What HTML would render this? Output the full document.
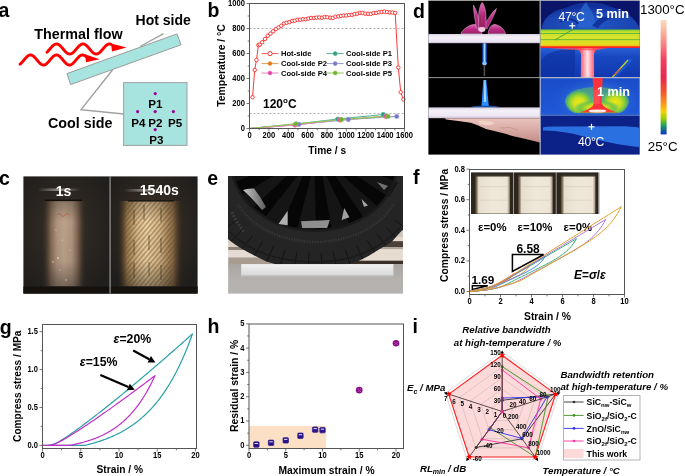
<!DOCTYPE html>
<html><head><meta charset="utf-8"><style>
html,body{margin:0;padding:0;background:#fff;font-family:"Liberation Sans", sans-serif;overflow:hidden;}
svg{display:block;will-change:transform;}
</style></head><body>
<svg width="685" height="476" viewBox="0 0 685 476" font-family="'Liberation Sans', sans-serif">
<defs><linearGradient id="slab1" x1="0" y1="0" x2="0" y2="1"><stop offset="0" stop-color="#d8d0e0"/><stop offset="0.3" stop-color="#f4f0f8"/><stop offset="0.8" stop-color="#ece6f2"/><stop offset="1" stop-color="#c8bcd0"/></linearGradient><linearGradient id="flame" x1="0" y1="0" x2="1" y2="0"><stop offset="0" stop-color="#0040ff" stop-opacity="0"/><stop offset="0.3" stop-color="#2080ff"/><stop offset="0.5" stop-color="#a0d8ff"/><stop offset="0.7" stop-color="#2080ff"/><stop offset="1" stop-color="#0040ff" stop-opacity="0"/></linearGradient><linearGradient id="pet" x1="0" y1="0" x2="0" y2="1"><stop offset="0" stop-color="#d868b0"/><stop offset="0.5" stop-color="#b82c80"/><stop offset="1" stop-color="#a02070"/></linearGradient><linearGradient id="skin" x1="0" y1="0" x2="0" y2="1"><stop offset="0" stop-color="#e8c4bc"/><stop offset="0.5" stop-color="#d8aaa4"/><stop offset="1" stop-color="#c08c84"/></linearGradient><radialGradient id="thfl" cx="0.5" cy="0.8" r="0.65"><stop offset="0" stop-color="#2058c8"/><stop offset="0.7" stop-color="#1a44b0"/><stop offset="1" stop-color="#12309a"/></radialGradient><linearGradient id="thslab" x1="0" y1="0" x2="0" y2="1"><stop offset="0" stop-color="#48a848"/><stop offset="0.08" stop-color="#a8d830"/><stop offset="0.18" stop-color="#c8e428"/><stop offset="0.22" stop-color="#58b040"/><stop offset="0.28" stop-color="#cce030"/><stop offset="0.5" stop-color="#dce428"/><stop offset="0.56" stop-color="#70b838"/><stop offset="0.62" stop-color="#d8e228"/><stop offset="0.86" stop-color="#e8d820"/><stop offset="0.91" stop-color="#f8a000"/><stop offset="0.95" stop-color="#ff3020"/><stop offset="1" stop-color="#e81840"/></linearGradient><linearGradient id="thbel" x1="0" y1="0" x2="0" y2="1"><stop offset="0" stop-color="#2a60d8"/><stop offset="0.3" stop-color="#1848c0"/><stop offset="1" stop-color="#1038b0"/></linearGradient><linearGradient id="thT" x1="0" y1="0" x2="1" y2="0"><stop offset="0" stop-color="#ff1840"/><stop offset="0.25" stop-color="#ff5068"/><stop offset="0.5" stop-color="#ffe4ea"/><stop offset="0.75" stop-color="#ff5068"/><stop offset="1" stop-color="#ff1840"/></linearGradient><linearGradient id="thbb" x1="0" y1="0" x2="0" y2="1"><stop offset="0" stop-color="#1a4cc8"/><stop offset="1" stop-color="#2058d8"/></linearGradient><radialGradient id="thcy" cx="0.5" cy="0.55" r="0.5"><stop offset="0" stop-color="#50a8f0"/><stop offset="1" stop-color="#2860d8" stop-opacity="0"/></radialGradient><radialGradient id="thlobe" cx="0.5" cy="0.55" r="0.5"><stop offset="0" stop-color="#f0e810"/><stop offset="0.4" stop-color="#d0e020"/><stop offset="0.75" stop-color="#78c840"/><stop offset="1" stop-color="#48b878" stop-opacity="0.2"/></radialGradient><linearGradient id="thT2" x1="0" y1="0" x2="1" y2="0"><stop offset="0" stop-color="#ff4020"/><stop offset="0.5" stop-color="#ff3040"/><stop offset="1" stop-color="#ff4020"/></linearGradient><linearGradient id="cbar" x1="0" y1="0" x2="0" y2="1"><stop offset="0" stop-color="#f8dcc0"/><stop offset="0.15" stop-color="#f8a090"/><stop offset="0.35" stop-color="#f04060"/><stop offset="0.5" stop-color="#e82850"/><stop offset="0.62" stop-color="#f05030"/><stop offset="0.72" stop-color="#f89020"/><stop offset="0.8" stop-color="#f8d000"/><stop offset="0.86" stop-color="#a0d000"/><stop offset="0.92" stop-color="#20a060"/><stop offset="1" stop-color="#1030c0"/></linearGradient><radialGradient id="cbgA" cx="0.47" cy="0.45" r="0.6"><stop offset="0" stop-color="#3c3128"/><stop offset="0.6" stop-color="#2a2520"/><stop offset="1" stop-color="#211f1d"/></radialGradient><radialGradient id="cbgB" cx="0.5" cy="0.45" r="0.6"><stop offset="0" stop-color="#45382a"/><stop offset="0.6" stop-color="#2c2620"/><stop offset="1" stop-color="#201e1c"/></radialGradient><linearGradient id="cyl1" x1="0" y1="0" x2="1" y2="0"><stop offset="0" stop-color="#3a2e24" stop-opacity="0"/><stop offset="0.2" stop-color="#806852"/><stop offset="0.34" stop-color="#ae9480"/><stop offset="0.5" stop-color="#bca28a"/><stop offset="0.68" stop-color="#ae947e"/><stop offset="0.82" stop-color="#76604e"/><stop offset="1" stop-color="#3a2e24" stop-opacity="0"/></linearGradient><linearGradient id="cyl2" x1="0" y1="0" x2="1" y2="0"><stop offset="0" stop-color="#4a3a26" stop-opacity="0"/><stop offset="0.14" stop-color="#9a7a4c"/><stop offset="0.3" stop-color="#dcbc8c"/><stop offset="0.45" stop-color="#f0d4a4"/><stop offset="0.65" stop-color="#d8b888"/><stop offset="0.86" stop-color="#8a6a44"/><stop offset="1" stop-color="#4a3a26" stop-opacity="0"/></linearGradient><linearGradient id="vgrad" x1="0" y1="0" x2="0" y2="1"><stop offset="0" stop-color="#a0a0a0"/><stop offset="0.25" stop-color="#fff"/><stop offset="0.7" stop-color="#f0f0f0"/><stop offset="1" stop-color="#808080"/></linearGradient><mask id="vm1" maskUnits="userSpaceOnUse" x="20" y="200" width="180" height="88"><rect x="20" y="200" width="180" height="88" fill="url(#vgrad)"/></mask><linearGradient id="mgrad" x1="0" y1="0" x2="1" y2="0"><stop offset="0" stop-color="#000"/><stop offset="0.2" stop-color="#fff"/><stop offset="0.8" stop-color="#fff"/><stop offset="1" stop-color="#000"/></linearGradient><mask id="smask" maskUnits="userSpaceOnUse" x="118" y="200" width="64" height="88"><rect x="118" y="200" width="64" height="88" fill="url(#mgrad)"/></mask><pattern id="stripes" patternUnits="userSpaceOnUse" width="3.5" height="3.5" patternTransform="rotate(40)"><rect width="1.4" height="3.5" fill="#4a3418" opacity="0.4"/></pattern><linearGradient id="glow" x1="0" y1="0" x2="1" y2="0"><stop offset="0" stop-color="#fff" stop-opacity="0"/><stop offset="0.5" stop-color="#fff4e8" stop-opacity="0.5"/><stop offset="1" stop-color="#fff" stop-opacity="0"/></linearGradient><linearGradient id="ebg" x1="0" y1="0" x2="0" y2="1"><stop offset="0" stop-color="#c4beb8"/><stop offset="0.55" stop-color="#cfc9c3"/><stop offset="0.7" stop-color="#ddd8d2"/><stop offset="0.8" stop-color="#d2cdc8"/><stop offset="1" stop-color="#b4b0ac"/></linearGradient><linearGradient id="egr" x1="0" y1="0" x2="0" y2="1"><stop offset="0" stop-color="#a8a4a0"/><stop offset="0.5" stop-color="#b4b1ae"/><stop offset="1" stop-color="#b6b4b2"/></linearGradient><clipPath id="tclip"><path d="M225,176 L406,176 L406,228 L401.7,230.8 Q396,237 392,241.4 Q387,245 381.4,248.1 Q375,252 368.9,255.8 Q363,259 357.3,261.6 Q349,264.5 340,265.5 L280,265.5 Q273,263.5 266.5,261.6 Q260,258.5 254.9,255.8 Q247,252 240.5,248.1 Q234,244 228.4,239.5 L225,237 Z"/></clipPath><linearGradient id="spk" x1="0" y1="0" x2="1" y2="0"><stop offset="0" stop-color="#c8c8c8"/><stop offset="1" stop-color="#5a5a5a"/></linearGradient><linearGradient id="eslab" x1="0" y1="0" x2="0" y2="1"><stop offset="0" stop-color="#f2f2f2"/><stop offset="0.35" stop-color="#e8e8e8"/><stop offset="1" stop-color="#d6d6d6"/></linearGradient><linearGradient id="fph" x1="0" y1="0" x2="1" y2="0"><stop offset="0" stop-color="#4a3e2c"/><stop offset="0.05" stop-color="#8a7a60"/><stop offset="0.1" stop-color="#e6dece"/><stop offset="0.5" stop-color="#efe8da"/><stop offset="0.92" stop-color="#ede6d6"/><stop offset="1" stop-color="#9a8c74"/></linearGradient></defs>
<rect width="685" height="476" fill="#fff"/>
<text x="-1.50" y="17.40" font-size="19.5" font-weight="bold" text-anchor="start" fill="#000" >a</text>
<polyline points="47.00,52.15 47.50,51.67 48.00,51.15 48.50,50.60 49.00,50.03 49.50,49.44 50.00,48.85 50.50,48.26 51.00,47.68 51.50,47.12 52.00,46.59 52.50,46.09 53.00,45.63 53.50,45.21 54.00,44.85 54.50,44.55 55.00,44.31 55.50,44.14 56.00,44.04 56.50,44.00 57.00,44.04 57.50,44.14 58.00,44.31 58.50,44.55 59.00,44.85 59.50,45.21 60.00,45.63 60.50,46.09 61.00,46.59 61.50,47.12 62.00,47.68 62.50,48.26 63.00,48.85 63.50,49.44 64.00,50.03 64.50,50.60 65.00,51.15 65.50,51.67 66.00,52.15 66.50,52.59 67.00,52.97 67.50,53.31 68.00,53.58 68.50,53.78 69.00,53.92 69.50,53.99 70.00,53.99 70.50,53.92 71.00,53.78 71.50,53.58 72.00,53.31 72.50,52.97 73.00,52.59 73.50,52.15 74.00,51.67 74.50,51.15 75.00,50.60 75.50,50.03 76.00,49.44 76.50,48.85 77.00,48.26 77.50,47.68 78.00,47.12 78.50,46.59 79.00,46.09 79.50,45.63 80.00,45.21 80.50,44.85 81.00,44.55 81.50,44.31 82.00,44.14 82.50,44.04 83.00,44.00 83.50,44.04 84.00,44.14 84.50,44.31 85.00,44.55 85.50,44.85 86.00,45.21 86.50,45.63 87.00,46.09 87.50,46.59 88.00,47.12 88.50,47.68 89.00,48.26 89.50,48.85 90.00,49.44 90.50,50.03 91.00,50.60 91.50,51.15 92.00,51.67 92.50,52.15 93.00,52.59 93.50,52.97 94.00,53.31 94.50,53.58 95.00,53.78 95.50,53.92 96.00,53.99 96.50,53.99 97.00,53.92 97.50,53.78 98.00,53.58 98.50,53.31 99.00,52.97 99.50,52.59 100.00,52.15 100.50,51.67 101.00,51.15 101.50,50.60 102.00,50.03 102.50,49.44 103.00,48.85 103.50,48.26 104.00,47.68 104.50,47.12 105.00,46.59 105.50,46.09 106.00,45.63 106.50,45.21 107.00,44.85 107.50,44.55 108.00,44.31 108.50,44.14 109.00,44.04 109.50,44.00 110.00,44.04 110.50,44.14 111.00,44.31" stroke="#ff0000" fill="none" stroke-width="2.9" stroke-linecap="round"/>
<polyline points="20.00,64.11 20.50,63.74 21.00,63.32 21.50,62.84 22.00,62.32 22.50,61.77 23.00,61.20 23.50,60.60 24.00,60.00 24.50,59.40 25.00,58.80 25.50,58.23 26.00,57.68 26.50,57.16 27.00,56.68 27.50,56.26 28.00,55.89 28.50,55.57 29.00,55.32 29.50,55.15 30.00,55.04 30.50,55.00 31.00,55.04 31.50,55.15 32.00,55.32 32.50,55.57 33.00,55.89 33.50,56.26 34.00,56.68 34.50,57.16 35.00,57.68 35.50,58.23 36.00,58.80 36.50,59.40 37.00,60.00 37.50,60.60 38.00,61.20 38.50,61.77 39.00,62.32 39.50,62.84 40.00,63.32 40.50,63.74 41.00,64.11 41.50,64.43 42.00,64.68 42.50,64.85 43.00,64.96 43.50,65.00 44.00,64.96 44.50,64.85 45.00,64.68 45.50,64.43 46.00,64.11 46.50,63.74 47.00,63.32 47.50,62.84 48.00,62.32 48.50,61.77 49.00,61.20 49.50,60.60 50.00,60.00 50.50,59.40 51.00,58.80 51.50,58.23 52.00,57.68 52.50,57.16 53.00,56.68 53.50,56.26 54.00,55.89 54.50,55.57 55.00,55.32 55.50,55.15 56.00,55.04 56.50,55.00 57.00,55.04 57.50,55.15 58.00,55.32 58.50,55.57 59.00,55.89 59.50,56.26 60.00,56.68 60.50,57.16 61.00,57.68 61.50,58.23 62.00,58.80 62.50,59.40 63.00,60.00 63.50,60.60 64.00,61.20 64.50,61.77 65.00,62.32 65.50,62.84 66.00,63.32 66.50,63.74 67.00,64.11 67.50,64.43 68.00,64.68 68.50,64.85 69.00,64.96 69.50,65.00 70.00,64.96 70.50,64.85 71.00,64.68 71.50,64.43 72.00,64.11 72.50,63.74 73.00,63.32 73.50,62.84 74.00,62.32 74.50,61.77 75.00,61.20 75.50,60.60 76.00,60.00 76.50,59.40 77.00,58.80 77.50,58.23 78.00,57.68 78.50,57.16 79.00,56.68 79.50,56.26 80.00,55.89 80.50,55.57 81.00,55.32 81.50,55.15 82.00,55.04 82.50,55.00 83.00,55.04 83.50,55.15 84.00,55.32 84.50,55.57 85.00,55.89 85.50,56.26 86.00,56.68" stroke="#ff0000" fill="none" stroke-width="2.9" stroke-linecap="round"/>
<polygon points="111,43.6 126.6,47.6 112,51.6" fill="#ff0000"/>
<polygon points="85,54.2 99.6,59.2 86,62.2" fill="#ff0000"/>
<polyline points="140.00,46.50 163.60,33.60" stroke="#a0a0a0" fill="none" stroke-width="1.4" />
<polyline points="112.50,70.00 81.00,109.60 123.60,114.00" stroke="#a0a0a0" fill="none" stroke-width="1.4" stroke-linejoin="miter"/>
<polygon points="67,73.6 177,33.9 181,44.8 70.6,84.6" fill="#a8e4df" stroke="#9a9a9a" stroke-width="1"/>
<polyline points="140.00,46.20 150.00,42.60" stroke="#a0a0a0" fill="none" stroke-width="0" />
<rect x="123.6" y="82.6" width="63.4" height="62.8" fill="#a8e4df" stroke="#a0a0a0" stroke-width="1"/>
<circle cx="155.2" cy="93.6" r="1.6" fill="#990099"/>
<circle cx="155.2" cy="111.6" r="1.6" fill="#990099"/>
<circle cx="137.6" cy="111.6" r="1.6" fill="#990099"/>
<circle cx="173.4" cy="111.6" r="1.6" fill="#990099"/>
<circle cx="155.2" cy="129.6" r="1.6" fill="#990099"/>
<text x="155.30" y="108.40" font-size="11.6" font-weight="bold" text-anchor="middle" fill="#000" >P1</text>
<text x="138.40" y="127.40" font-size="11.6" font-weight="bold" text-anchor="middle" fill="#000" >P4</text>
<text x="155.40" y="127.40" font-size="11.6" font-weight="bold" text-anchor="middle" fill="#000" >P2</text>
<text x="175.00" y="127.40" font-size="11.6" font-weight="bold" text-anchor="middle" fill="#000" >P5</text>
<text x="156.30" y="144.00" font-size="11.6" font-weight="bold" text-anchor="middle" fill="#000" >P3</text>
<text x="34.30" y="38.70" font-size="14.33" font-weight="bold" text-anchor="start" fill="#000" >Thermal flow</text>
<text x="135.60" y="25.40" font-size="14" font-weight="bold" text-anchor="start" fill="#000" >Hot side</text>
<text x="48.00" y="127.90" font-size="14.3" font-weight="bold" text-anchor="start" fill="#000" >Cool side</text>
<text x="207.40" y="17.00" font-size="19.5" font-weight="bold" text-anchor="start" fill="#000" >b</text>
<line x1="249.50" y1="28.50" x2="404.50" y2="28.50" stroke="#a0a0a0" stroke-width="0.8" stroke-dasharray="2,2"/>
<line x1="249.50" y1="113.50" x2="404.50" y2="113.50" stroke="#a0a0a0" stroke-width="0.8" stroke-dasharray="2,2"/>
<polyline points="249.50,128.50 296.00,124.12 337.66,119.12 383.19,114.50" stroke="#56b89a" fill="none" stroke-width="1.1" />
<polyline points="249.50,128.50 295.03,124.75 340.56,120.00 386.09,116.38" stroke="#e89a50" fill="none" stroke-width="1.1" />
<polyline points="249.50,128.50 298.91,124.38 348.31,119.50 396.75,116.38" stroke="#9a9ad8" fill="none" stroke-width="1.1" />
<polyline points="249.50,128.50 295.03,125.00 339.59,119.75 386.09,116.25" stroke="#f080c0" fill="none" stroke-width="1.1" />
<polyline points="249.50,128.50 296.00,123.88 341.53,119.50 388.03,116.38" stroke="#90c858" fill="none" stroke-width="1.1" />
<circle cx="296.00" cy="124.12" r="2.2" fill="#30a080" stroke="#56b89a" stroke-width="0.6"/>
<circle cx="337.66" cy="119.12" r="2.2" fill="#30a080" stroke="#56b89a" stroke-width="0.6"/>
<circle cx="383.19" cy="114.50" r="2.2" fill="#30a080" stroke="#56b89a" stroke-width="0.6"/>
<circle cx="295.03" cy="124.75" r="2.2" fill="#e07a20" stroke="#e89a50" stroke-width="0.6"/>
<circle cx="340.56" cy="120.00" r="2.2" fill="#e07a20" stroke="#e89a50" stroke-width="0.6"/>
<circle cx="386.09" cy="116.38" r="2.2" fill="#e07a20" stroke="#e89a50" stroke-width="0.6"/>
<circle cx="298.91" cy="124.38" r="2.2" fill="#7878c8" stroke="#9a9ad8" stroke-width="0.6"/>
<circle cx="348.31" cy="119.50" r="2.2" fill="#7878c8" stroke="#9a9ad8" stroke-width="0.6"/>
<circle cx="396.75" cy="116.38" r="2.2" fill="#7878c8" stroke="#9a9ad8" stroke-width="0.6"/>
<circle cx="295.03" cy="125.00" r="2.2" fill="#e040a0" stroke="#f080c0" stroke-width="0.6"/>
<circle cx="339.59" cy="119.75" r="2.2" fill="#e040a0" stroke="#f080c0" stroke-width="0.6"/>
<circle cx="386.09" cy="116.25" r="2.2" fill="#e040a0" stroke="#f080c0" stroke-width="0.6"/>
<circle cx="296.00" cy="123.88" r="2.2" fill="#70b030" stroke="#90c858" stroke-width="0.6"/>
<circle cx="341.53" cy="119.50" r="2.2" fill="#70b030" stroke="#90c858" stroke-width="0.6"/>
<circle cx="388.03" cy="116.38" r="2.2" fill="#70b030" stroke="#90c858" stroke-width="0.6"/>
<polyline points="252.50,97.25 254.73,70.00 256.48,60.00 258.41,45.00 259.77,44.62 262.19,42.25 265.00,38.97 267.71,35.75 270.43,33.67 273.14,31.29 275.85,29.11 278.56,27.39 281.27,25.78 283.99,23.51 286.70,22.76 289.41,22.13 292.12,20.92 294.84,20.67 297.55,19.81 300.26,19.71 302.98,19.23 305.69,19.23 308.40,18.50 311.11,17.97 313.82,18.01 316.54,17.63 319.25,17.46 321.96,17.70 324.68,16.96 327.39,17.26 330.10,17.72 332.81,17.94 335.52,16.69 338.24,16.35 340.95,15.84 343.66,15.53 346.38,15.48 349.09,15.05 351.80,14.89 354.51,14.03 357.23,13.74 359.94,12.82 362.65,12.98 365.36,13.71 368.07,13.83 370.79,13.91 373.50,13.06 376.21,12.93 378.93,12.26 381.64,11.97 384.35,11.63 387.06,12.05 389.77,12.41 392.49,12.57 395.20,12.89 398.30,67.50 400.72,92.25 403.34,99.38" stroke="#ff2020" fill="none" stroke-width="0.9" />
<circle cx="252.50" cy="97.25" r="1.75" fill="#fff" stroke="#ff2020" stroke-width="0.85"/>
<circle cx="254.73" cy="70.00" r="1.75" fill="#fff" stroke="#ff2020" stroke-width="0.85"/>
<circle cx="256.48" cy="60.00" r="1.75" fill="#fff" stroke="#ff2020" stroke-width="0.85"/>
<circle cx="258.41" cy="45.00" r="1.75" fill="#fff" stroke="#ff2020" stroke-width="0.85"/>
<circle cx="259.77" cy="44.62" r="1.75" fill="#fff" stroke="#ff2020" stroke-width="0.85"/>
<circle cx="262.19" cy="42.25" r="1.75" fill="#fff" stroke="#ff2020" stroke-width="0.85"/>
<circle cx="265.00" cy="38.97" r="1.75" fill="#fff" stroke="#ff2020" stroke-width="0.85"/>
<circle cx="267.71" cy="35.75" r="1.75" fill="#fff" stroke="#ff2020" stroke-width="0.85"/>
<circle cx="270.43" cy="33.67" r="1.75" fill="#fff" stroke="#ff2020" stroke-width="0.85"/>
<circle cx="273.14" cy="31.29" r="1.75" fill="#fff" stroke="#ff2020" stroke-width="0.85"/>
<circle cx="275.85" cy="29.11" r="1.75" fill="#fff" stroke="#ff2020" stroke-width="0.85"/>
<circle cx="278.56" cy="27.39" r="1.75" fill="#fff" stroke="#ff2020" stroke-width="0.85"/>
<circle cx="281.27" cy="25.78" r="1.75" fill="#fff" stroke="#ff2020" stroke-width="0.85"/>
<circle cx="283.99" cy="23.51" r="1.75" fill="#fff" stroke="#ff2020" stroke-width="0.85"/>
<circle cx="286.70" cy="22.76" r="1.75" fill="#fff" stroke="#ff2020" stroke-width="0.85"/>
<circle cx="289.41" cy="22.13" r="1.75" fill="#fff" stroke="#ff2020" stroke-width="0.85"/>
<circle cx="292.12" cy="20.92" r="1.75" fill="#fff" stroke="#ff2020" stroke-width="0.85"/>
<circle cx="294.84" cy="20.67" r="1.75" fill="#fff" stroke="#ff2020" stroke-width="0.85"/>
<circle cx="297.55" cy="19.81" r="1.75" fill="#fff" stroke="#ff2020" stroke-width="0.85"/>
<circle cx="300.26" cy="19.71" r="1.75" fill="#fff" stroke="#ff2020" stroke-width="0.85"/>
<circle cx="302.98" cy="19.23" r="1.75" fill="#fff" stroke="#ff2020" stroke-width="0.85"/>
<circle cx="305.69" cy="19.23" r="1.75" fill="#fff" stroke="#ff2020" stroke-width="0.85"/>
<circle cx="308.40" cy="18.50" r="1.75" fill="#fff" stroke="#ff2020" stroke-width="0.85"/>
<circle cx="311.11" cy="17.97" r="1.75" fill="#fff" stroke="#ff2020" stroke-width="0.85"/>
<circle cx="313.82" cy="18.01" r="1.75" fill="#fff" stroke="#ff2020" stroke-width="0.85"/>
<circle cx="316.54" cy="17.63" r="1.75" fill="#fff" stroke="#ff2020" stroke-width="0.85"/>
<circle cx="319.25" cy="17.46" r="1.75" fill="#fff" stroke="#ff2020" stroke-width="0.85"/>
<circle cx="321.96" cy="17.70" r="1.75" fill="#fff" stroke="#ff2020" stroke-width="0.85"/>
<circle cx="324.68" cy="16.96" r="1.75" fill="#fff" stroke="#ff2020" stroke-width="0.85"/>
<circle cx="327.39" cy="17.26" r="1.75" fill="#fff" stroke="#ff2020" stroke-width="0.85"/>
<circle cx="330.10" cy="17.72" r="1.75" fill="#fff" stroke="#ff2020" stroke-width="0.85"/>
<circle cx="332.81" cy="17.94" r="1.75" fill="#fff" stroke="#ff2020" stroke-width="0.85"/>
<circle cx="335.52" cy="16.69" r="1.75" fill="#fff" stroke="#ff2020" stroke-width="0.85"/>
<circle cx="338.24" cy="16.35" r="1.75" fill="#fff" stroke="#ff2020" stroke-width="0.85"/>
<circle cx="340.95" cy="15.84" r="1.75" fill="#fff" stroke="#ff2020" stroke-width="0.85"/>
<circle cx="343.66" cy="15.53" r="1.75" fill="#fff" stroke="#ff2020" stroke-width="0.85"/>
<circle cx="346.38" cy="15.48" r="1.75" fill="#fff" stroke="#ff2020" stroke-width="0.85"/>
<circle cx="349.09" cy="15.05" r="1.75" fill="#fff" stroke="#ff2020" stroke-width="0.85"/>
<circle cx="351.80" cy="14.89" r="1.75" fill="#fff" stroke="#ff2020" stroke-width="0.85"/>
<circle cx="354.51" cy="14.03" r="1.75" fill="#fff" stroke="#ff2020" stroke-width="0.85"/>
<circle cx="357.23" cy="13.74" r="1.75" fill="#fff" stroke="#ff2020" stroke-width="0.85"/>
<circle cx="359.94" cy="12.82" r="1.75" fill="#fff" stroke="#ff2020" stroke-width="0.85"/>
<circle cx="362.65" cy="12.98" r="1.75" fill="#fff" stroke="#ff2020" stroke-width="0.85"/>
<circle cx="365.36" cy="13.71" r="1.75" fill="#fff" stroke="#ff2020" stroke-width="0.85"/>
<circle cx="368.07" cy="13.83" r="1.75" fill="#fff" stroke="#ff2020" stroke-width="0.85"/>
<circle cx="370.79" cy="13.91" r="1.75" fill="#fff" stroke="#ff2020" stroke-width="0.85"/>
<circle cx="373.50" cy="13.06" r="1.75" fill="#fff" stroke="#ff2020" stroke-width="0.85"/>
<circle cx="376.21" cy="12.93" r="1.75" fill="#fff" stroke="#ff2020" stroke-width="0.85"/>
<circle cx="378.93" cy="12.26" r="1.75" fill="#fff" stroke="#ff2020" stroke-width="0.85"/>
<circle cx="381.64" cy="11.97" r="1.75" fill="#fff" stroke="#ff2020" stroke-width="0.85"/>
<circle cx="384.35" cy="11.63" r="1.75" fill="#fff" stroke="#ff2020" stroke-width="0.85"/>
<circle cx="387.06" cy="12.05" r="1.75" fill="#fff" stroke="#ff2020" stroke-width="0.85"/>
<circle cx="389.77" cy="12.41" r="1.75" fill="#fff" stroke="#ff2020" stroke-width="0.85"/>
<circle cx="392.49" cy="12.57" r="1.75" fill="#fff" stroke="#ff2020" stroke-width="0.85"/>
<circle cx="395.20" cy="12.89" r="1.75" fill="#fff" stroke="#ff2020" stroke-width="0.85"/>
<circle cx="398.30" cy="67.50" r="1.75" fill="#fff" stroke="#ff2020" stroke-width="0.85"/>
<circle cx="400.72" cy="92.25" r="1.75" fill="#fff" stroke="#ff2020" stroke-width="0.85"/>
<circle cx="403.34" cy="99.38" r="1.75" fill="#fff" stroke="#ff2020" stroke-width="0.85"/>
<rect x="249.5" y="3.5" width="155.00" height="125.00" fill="none" stroke="#555" stroke-width="1"/>
<line x1="246.50" y1="128.50" x2="249.50" y2="128.50" stroke="#555" stroke-width="0.8" />
<line x1="247.70" y1="116.00" x2="249.50" y2="116.00" stroke="#555" stroke-width="0.8" />
<line x1="246.50" y1="103.50" x2="249.50" y2="103.50" stroke="#555" stroke-width="0.8" />
<line x1="247.70" y1="91.00" x2="249.50" y2="91.00" stroke="#555" stroke-width="0.8" />
<line x1="246.50" y1="78.50" x2="249.50" y2="78.50" stroke="#555" stroke-width="0.8" />
<line x1="247.70" y1="66.00" x2="249.50" y2="66.00" stroke="#555" stroke-width="0.8" />
<line x1="246.50" y1="53.50" x2="249.50" y2="53.50" stroke="#555" stroke-width="0.8" />
<line x1="247.70" y1="41.00" x2="249.50" y2="41.00" stroke="#555" stroke-width="0.8" />
<line x1="246.50" y1="28.50" x2="249.50" y2="28.50" stroke="#555" stroke-width="0.8" />
<line x1="247.70" y1="16.00" x2="249.50" y2="16.00" stroke="#555" stroke-width="0.8" />
<line x1="246.50" y1="3.50" x2="249.50" y2="3.50" stroke="#555" stroke-width="0.8" />
<line x1="249.50" y1="128.50" x2="249.50" y2="131.50" stroke="#555" stroke-width="0.8" />
<line x1="259.19" y1="128.50" x2="259.19" y2="130.30" stroke="#555" stroke-width="0.8" />
<line x1="268.88" y1="128.50" x2="268.88" y2="131.50" stroke="#555" stroke-width="0.8" />
<line x1="278.56" y1="128.50" x2="278.56" y2="130.30" stroke="#555" stroke-width="0.8" />
<line x1="288.25" y1="128.50" x2="288.25" y2="131.50" stroke="#555" stroke-width="0.8" />
<line x1="297.94" y1="128.50" x2="297.94" y2="130.30" stroke="#555" stroke-width="0.8" />
<line x1="307.62" y1="128.50" x2="307.62" y2="131.50" stroke="#555" stroke-width="0.8" />
<line x1="317.31" y1="128.50" x2="317.31" y2="130.30" stroke="#555" stroke-width="0.8" />
<line x1="327.00" y1="128.50" x2="327.00" y2="131.50" stroke="#555" stroke-width="0.8" />
<line x1="336.69" y1="128.50" x2="336.69" y2="130.30" stroke="#555" stroke-width="0.8" />
<line x1="346.38" y1="128.50" x2="346.38" y2="131.50" stroke="#555" stroke-width="0.8" />
<line x1="356.06" y1="128.50" x2="356.06" y2="130.30" stroke="#555" stroke-width="0.8" />
<line x1="365.75" y1="128.50" x2="365.75" y2="131.50" stroke="#555" stroke-width="0.8" />
<line x1="375.44" y1="128.50" x2="375.44" y2="130.30" stroke="#555" stroke-width="0.8" />
<line x1="385.12" y1="128.50" x2="385.12" y2="131.50" stroke="#555" stroke-width="0.8" />
<line x1="394.81" y1="128.50" x2="394.81" y2="130.30" stroke="#555" stroke-width="0.8" />
<line x1="404.50" y1="128.50" x2="404.50" y2="131.50" stroke="#555" stroke-width="0.8" />
<text transform="translate(244.90,130.90) scale(0.9,1)" font-size="8.4" font-weight="bold" text-anchor="end">0</text>
<text transform="translate(244.90,105.90) scale(0.9,1)" font-size="8.4" font-weight="bold" text-anchor="end">200</text>
<text transform="translate(244.90,80.90) scale(0.9,1)" font-size="8.4" font-weight="bold" text-anchor="end">400</text>
<text transform="translate(244.90,55.90) scale(0.9,1)" font-size="8.4" font-weight="bold" text-anchor="end">600</text>
<text transform="translate(244.90,30.90) scale(0.9,1)" font-size="8.4" font-weight="bold" text-anchor="end">800</text>
<text transform="translate(244.90,5.90) scale(0.9,1)" font-size="8.4" font-weight="bold" text-anchor="end">1000</text>
<text transform="translate(249.50,138.20) scale(0.9,1)" font-size="8.4" font-weight="bold" text-anchor="middle">0</text>
<text transform="translate(268.88,138.20) scale(0.9,1)" font-size="8.4" font-weight="bold" text-anchor="middle">200</text>
<text transform="translate(288.25,138.20) scale(0.9,1)" font-size="8.4" font-weight="bold" text-anchor="middle">400</text>
<text transform="translate(307.62,138.20) scale(0.9,1)" font-size="8.4" font-weight="bold" text-anchor="middle">600</text>
<text transform="translate(327.00,138.20) scale(0.9,1)" font-size="8.4" font-weight="bold" text-anchor="middle">800</text>
<text transform="translate(346.38,138.20) scale(0.9,1)" font-size="8.4" font-weight="bold" text-anchor="middle">1000</text>
<text transform="translate(365.75,138.20) scale(0.9,1)" font-size="8.4" font-weight="bold" text-anchor="middle">1200</text>
<text transform="translate(385.12,138.20) scale(0.9,1)" font-size="8.4" font-weight="bold" text-anchor="middle">1400</text>
<text transform="translate(404.50,138.20) scale(0.9,1)" font-size="8.4" font-weight="bold" text-anchor="middle">1600</text>
<text x="327.20" y="153.60" font-size="10.2" font-weight="bold" text-anchor="middle" fill="#000" >Time / s</text>
<text transform="translate(225.3,65.5) rotate(-90)" font-size="10.4" font-weight="bold" text-anchor="middle">Temperature / °C</text>
<text x="263.00" y="107.60" font-size="12.0" font-weight="bold" text-anchor="start" fill="#000" >120<tspan font-size="8" dy="-4.5">o</tspan><tspan dy="4.5">C</tspan></text>
<line x1="261.50" y1="53.60" x2="278.50" y2="53.60" stroke="#ff6060" stroke-width="1.0" />
<circle cx="270" cy="53.6" r="2.1" fill="#fff" stroke="#ff2020" stroke-width="0.9"/>
<line x1="261.50" y1="63.60" x2="278.50" y2="63.60" stroke="#e89a50" stroke-width="1.0" />
<circle cx="270" cy="63.6" r="2.1" fill="#e07a20" stroke="#e89a50" stroke-width="0.5"/>
<line x1="261.50" y1="73.00" x2="278.50" y2="73.00" stroke="#f080c0" stroke-width="1.0" />
<circle cx="270" cy="73.0" r="2.1" fill="#e040a0" stroke="#f080c0" stroke-width="0.5"/>
<line x1="326.70" y1="53.60" x2="343.70" y2="53.60" stroke="#56b89a" stroke-width="1.0" />
<circle cx="335.2" cy="53.6" r="2.1" fill="#30a080" stroke="#56b89a" stroke-width="0.5"/>
<line x1="326.70" y1="63.60" x2="343.70" y2="63.60" stroke="#9a9ad8" stroke-width="1.0" />
<circle cx="335.2" cy="63.6" r="2.1" fill="#7878c8" stroke="#9a9ad8" stroke-width="0.5"/>
<line x1="326.70" y1="73.00" x2="343.70" y2="73.00" stroke="#90c858" stroke-width="1.0" />
<circle cx="335.2" cy="73.0" r="2.1" fill="#70b030" stroke="#90c858" stroke-width="0.5"/>
<text x="281.00" y="56.40" font-size="7.6" font-weight="bold" text-anchor="start" fill="#000" >Hot-side</text>
<text x="281.00" y="66.40" font-size="7.6" font-weight="bold" text-anchor="start" fill="#000" >Cool-side P2</text>
<text x="281.00" y="75.80" font-size="7.6" font-weight="bold" text-anchor="start" fill="#000" >Cool-side P4</text>
<text x="346.00" y="56.40" font-size="7.6" font-weight="bold" text-anchor="start" fill="#000" >Cool-side P1</text>
<text x="346.00" y="66.40" font-size="7.6" font-weight="bold" text-anchor="start" fill="#000" >Cool-side P3</text>
<text x="346.00" y="75.80" font-size="7.6" font-weight="bold" text-anchor="start" fill="#000" >Cool-side P5</text>
<rect x="428.3" y="0" width="211.4" height="1.1" fill="#c4c4c4"/>
<rect x="428.4" y="0.8" width="111.6" height="153.8" fill="#000"/>
<rect x="428.4" y="34" width="111.6" height="9.2" fill="url(#slab1)"/>
<rect x="481.5" y="43.2" width="6" height="21" fill="url(#flame)"/>
<ellipse cx="484.5" cy="63.5" rx="2.2" ry="2" fill="#80c8ff"/>
<rect x="483.6" y="65" width="1.6" height="11" fill="#505050"/>
<path d="M461,33.6 C463,29 469,25 474,24.5 C478,24.5 481,27 482,33.6 Z" fill="url(#pet)" stroke="#e8a0d0" stroke-width="0.6"/>
<path d="M488,33.6 C489,27 492,24.5 495,24.5 C500,25.5 504,29 505.5,33.6 Z" fill="url(#pet)" stroke="#e8a0d0" stroke-width="0.6"/>
<path d="M473.4,5 C476.5,10 479,18 480,28 L476.5,28 C475,20 473.5,12 473.4,5 Z" fill="url(#pet)" stroke="#e0a0d0" stroke-width="0.5"/>
<path d="M496.5,8.5 C495,14 491,21 487,29 L483.5,27 C488,19 492,12 496.5,8.5 Z" fill="url(#pet)" stroke="#e0a0d0" stroke-width="0.5"/>
<path d="M482.2,2.5 C485.5,6 486.5,15 486,28 L478.5,28 C478,15 479,6 482.2,2.5 Z" fill="url(#pet)" stroke="#e8a8d8" stroke-width="0.5"/>
<path d="M480,14 L481,26 M484,12 L483,26" stroke="#6a3020" stroke-width="0.7" opacity="0.6"/>
<ellipse cx="481.8" cy="29.5" rx="3.6" ry="2.4" fill="#f0c8e0"/>
<rect x="428.4" y="77.2" width="111.6" height="0.9" fill="#a8a8a8"/>
<path d="M483.3,80 L486.3,80 L488.8,106 L481.5,106 Z" fill="#2a8cff"/>
<path d="M484.3,80 L485.5,80 L486.2,102 L483.8,102 Z" fill="#a0d8ff"/>
<ellipse cx="485" cy="106.8" rx="14" ry="1.3" fill="#2070e0" opacity="0.7"/>
<rect x="428.4" y="107.4" width="111.6" height="10.8" fill="url(#slab1)"/>
<path d="M445,118.2 L540,118.2 L540,142.5 Q530,140 521.3,138 Q512,136 504.4,133.5 Q495,131 486,128.9 Q478,125 470.7,122.7 Q458,121 446,119.5 Z" fill="url(#skin)"/>
<path d="M478,121 Q488,120 495,123 Q490,127 480,124 Z" fill="#f4d8cc" opacity="0.8"/>
<path d="M500,128 Q510,126 518,130" stroke="#b88068" stroke-width="0.8" fill="none" opacity="0.6"/>
<rect x="539.6" y="0.8" width="1" height="153.8" fill="#c8c8c8"/>
<svg x="540.6" y="0.8" width="99.1" height="153.8" viewBox="540.6 0.8 99.1 153.8" overflow="hidden">
<rect x="540.6" y="0.8" width="99.1" height="76.6" fill="#0a1468"/>
<path d="M541,30 C543,18 552,10 566,8 C575,2 598,0 612,7 C626,11 637,19 640,30 Z" fill="url(#thfl)"/>
<path d="M578,28 C576,18 580,8 586,2 C590,10 596,16 596,28 Z" fill="#2a64d0" opacity="0.8"/>
<path d="M592,26 C598,18 606,14 612,18 C606,20 600,24 598,28 Z" fill="#0e2a90" opacity="0.8"/>
<path d="M560,22 C566,18 574,18 578,24" stroke="#0e2890" stroke-width="1.5" fill="none"/>
<rect x="540.6" y="29.3" width="99.1" height="18.4" fill="url(#thslab)"/>
<path d="M555,40 Q565,34 572,30" stroke="#40a040" stroke-width="1.2" fill="none" opacity="0.7"/>
<rect x="540.6" y="47.7" width="99.1" height="29.7" fill="url(#thbel)"/>
<path d="M541,60 Q548,52 560,50 L575,49 L575,77.4 L541,77.4 Z" fill="#0e2e9c" opacity="0.6"/>
<path d="M612,77.4 L630,58 L633,60 L616,77.4 Z" fill="#1a60d8" opacity="0.7"/>
<path d="M612.5,77 L628,60" stroke="#c8d020" stroke-width="1.3"/>
<path d="M614,75.5 L620,68.5" stroke="#ff3030" stroke-width="1"/>
<path d="M573,47.6 L602,47.6 Q595,49 594,54 L594.2,77.4 L580.8,77.4 L581,54 Q580,49 573,47.6 Z" fill="url(#thT)"/>
<rect x="540.6" y="46.8" width="99.1" height="1.2" fill="#ff2030"/>
<path d="M548,48 L608,48 Q600,50 590,50.5 Q570,50 548,48 Z" fill="#ff5050" opacity="0.7"/>
<rect x="540.6" y="78.1" width="99.1" height="36" fill="url(#thbb)"/>
<ellipse cx="597" cy="98" rx="44" ry="24" fill="url(#thcy)"/>
<ellipse cx="597" cy="101" rx="32" ry="14" fill="#60c050" opacity="0.55"/>
<ellipse cx="579" cy="101.5" rx="14" ry="12.5" fill="url(#thlobe)"/>
<ellipse cx="615" cy="101.5" rx="14" ry="12.5" fill="url(#thlobe)"/>
<ellipse cx="597" cy="107" rx="22" ry="7" fill="url(#thlobe)"/>
<path d="M592.6,78.1 L602.7,78.1 L601.5,103 Q604,109 618,112.5 L579,112.5 Q593,109 594,103 Z" fill="url(#thT2)"/>
<path d="M594,90 L600,90 L599.5,104 L594.5,104 Z" fill="#ff6060" opacity="0.6"/>
<ellipse cx="597.5" cy="111" rx="9" ry="1.6" fill="#ffe8e0"/>
<rect x="540.6" y="113.3" width="99.1" height="2.3" fill="#2a60d0"/>
<rect x="540.6" y="115.6" width="99.1" height="39" fill="#0c2288"/>
<path d="M543,127.5 Q546,126.2 560,126.5 L625,126.2 Q638,127 639.7,128 L639.7,147 Q628,146 612,143 Q592,139 572,133.5 Q556,130.5 543,130.5 Z" fill="#2a70e0"/>
<rect x="540.6" y="77.2" width="99.1" height="0.9" fill="#c8c8c8"/>
</svg>
<text x="558.60" y="20.80" font-size="12.2" font-weight="normal" text-anchor="start" fill="#fff" letter-spacing="-0.3">47°C</text>
<text x="596.00" y="17.80" font-size="12.6" font-weight="bold" text-anchor="start" fill="#fff" >5 min</text>
<text x="597.00" y="95.50" font-size="12.6" font-weight="bold" text-anchor="start" fill="#fff" >1 min</text>
<text x="578.00" y="145.80" font-size="12.2" font-weight="normal" text-anchor="start" fill="#fff" letter-spacing="-0.3">40°C</text>
<line x1="569.20" y1="25.80" x2="575.20" y2="25.80" stroke="#fff" stroke-width="1.2" />
<line x1="572.20" y1="22.80" x2="572.20" y2="28.80" stroke="#fff" stroke-width="1.2" />
<line x1="588.50" y1="126.80" x2="594.50" y2="126.80" stroke="#fff" stroke-width="1.2" />
<line x1="591.50" y1="123.80" x2="591.50" y2="129.80" stroke="#fff" stroke-width="1.2" />
<rect x="660.6" y="20" width="6" height="114.4" fill="url(#cbar)"/>
<text x="640.00" y="13.60" font-size="13.3" font-weight="normal" text-anchor="start" fill="#000" >1300°C</text>
<text x="647.80" y="150.90" font-size="13.3" font-weight="normal" text-anchor="start" fill="#000" >25°C</text>
<text x="413.00" y="17.60" font-size="19.5" font-weight="bold" text-anchor="start" fill="#000" >d</text>
<text x="-1.00" y="185.00" font-size="19.5" font-weight="bold" text-anchor="start" fill="#000" >c</text>
<rect x="23.4" y="176.4" width="86.6" height="117.2" fill="url(#cbgA)"/>
<rect x="42" y="200.5" width="44" height="86" fill="url(#cyl1)" mask="url(#vm1)"/>
<circle cx="53" cy="262" r="0.8" fill="#f0e0d0" opacity="0.8"/>
<circle cx="58" cy="258" r="0.9" fill="#f0e0d0" opacity="0.8"/>
<circle cx="62" cy="240" r="0.6" fill="#f0e0d0" opacity="0.8"/>
<circle cx="66" cy="280" r="0.7" fill="#f0e0d0" opacity="0.8"/>
<circle cx="56" cy="230" r="0.6" fill="#f0e0d0" opacity="0.8"/>
<circle cx="70" cy="250" r="0.5" fill="#f0e0d0" opacity="0.8"/>
<circle cx="60" cy="270" r="0.6" fill="#f0e0d0" opacity="0.8"/>
<path d="M57,215 q2,-3 4,0 q2,3 4,0 q2,-3 4,0" stroke="#c03020" stroke-width="0.6" fill="none" opacity="0.7"/>
<rect x="38" y="188.4" width="42" height="2.6" fill="url(#glow)"/>
<rect x="45" y="199.6" width="37" height="1.5" fill="#120e0a"/>
<rect x="23.4" y="286.5" width="86.6" height="7.1" fill="#15110e"/>
<rect x="110" y="176.4" width="87.6" height="117.2" fill="url(#cbgB)"/>
<rect x="118" y="201" width="64" height="85.5" fill="url(#cyl2)" mask="url(#vm1)"/>
<rect x="118" y="202" width="64" height="84" fill="url(#stripes)" mask="url(#smask)"/>
<line x1="134.00" y1="210.00" x2="134.00" y2="225.00" stroke="#3a2810" stroke-width="0.6" />
<line x1="144.00" y1="205.00" x2="144.00" y2="220.00" stroke="#3a2810" stroke-width="0.6" />
<line x1="161.00" y1="208.00" x2="161.00" y2="222.00" stroke="#3a2810" stroke-width="0.6" />
<line x1="134.00" y1="240.00" x2="134.00" y2="255.00" stroke="#3a2810" stroke-width="0.6" />
<line x1="149.00" y1="235.00" x2="149.00" y2="250.00" stroke="#3a2810" stroke-width="0.6" />
<line x1="161.00" y1="238.00" x2="161.00" y2="253.00" stroke="#3a2810" stroke-width="0.6" />
<line x1="134.00" y1="262.00" x2="134.00" y2="278.00" stroke="#3a2810" stroke-width="0.6" />
<line x1="149.00" y1="262.00" x2="149.00" y2="276.00" stroke="#3a2810" stroke-width="0.6" />
<line x1="161.00" y1="265.00" x2="161.00" y2="280.00" stroke="#3a2810" stroke-width="0.6" />
<rect x="124" y="189.0" width="42" height="2.6" fill="url(#glow)"/>
<rect x="128" y="200.2" width="46" height="1.4" fill="#181410"/>
<rect x="110" y="286.5" width="87.6" height="7.1" fill="#16120f"/>
<rect x="109.6" y="176.4" width="0.9" height="117.2" fill="#c0c0c0"/>
<text x="63.50" y="196.00" font-size="14" font-weight="bold" text-anchor="middle" fill="#fff" >1s</text>
<text x="159.30" y="195.00" font-size="14" font-weight="bold" text-anchor="middle" fill="#fff" >1540s</text>
<text x="207.20" y="184.60" font-size="19.5" font-weight="bold" text-anchor="start" fill="#000" >e</text>
<svg x="228.3" y="176.1" width="174.7" height="117.3" viewBox="228.3 176.1 174.7 117.3" overflow="hidden">
<rect x="228.3" y="176.1" width="174.7" height="117.3" fill="url(#ebg)"/>
<rect x="228.3" y="241" width="80" height="6" fill="#dccfc2"/>
<rect x="228.3" y="247" width="80" height="3" fill="#8e847a"/>
<rect x="228.3" y="250" width="80" height="7.5" fill="#e4dcd4"/>
<rect x="228.3" y="257.5" width="80" height="8" fill="#a89c90"/>
<rect x="320" y="237" width="83" height="4.2" fill="#e6d8ca"/>
<rect x="320" y="241.2" width="83" height="6" fill="#4a4038"/>
<rect x="320" y="247.2" width="83" height="2" fill="#b0a498"/>
<rect x="320" y="249.2" width="83" height="11.5" fill="#e6dcd0"/>
<rect x="320" y="260.7" width="83" height="3.4" fill="#3a3028"/>
<rect x="228.3" y="264" width="174.7" height="29.4" fill="url(#egr)"/>
<path d="M225,176 L406,176 L406,228 L401.7,230.8 Q396,237 392,241.4 Q387,245 381.4,248.1 Q375,252 368.9,255.8 Q363,259 357.3,261.6 Q349,264.5 340,265.5 L280,265.5 Q273,263.5 266.5,261.6 Q260,258.5 254.9,255.8 Q247,252 240.5,248.1 Q234,244 228.4,239.5 L225,237 Z" fill="#242424"/>
<g clip-path="url(#tclip)">
<line x1="216.77" y1="193.78" x2="192.34" y2="202.33" stroke="#141414" stroke-width="1.0" />
<line x1="221.59" y1="203.44" x2="198.36" y2="214.67" stroke="#141414" stroke-width="1.0" />
<line x1="227.68" y1="212.54" x2="205.97" y2="226.31" stroke="#141414" stroke-width="1.0" />
<line x1="234.95" y1="220.97" x2="215.06" y2="237.07" stroke="#141414" stroke-width="1.0" />
<line x1="243.31" y1="228.61" x2="225.51" y2="246.83" stroke="#141414" stroke-width="1.0" />
<line x1="252.64" y1="235.35" x2="237.17" y2="255.44" stroke="#141414" stroke-width="1.0" />
<line x1="262.81" y1="241.10" x2="249.89" y2="262.79" stroke="#141414" stroke-width="1.0" />
<line x1="273.70" y1="245.78" x2="263.50" y2="268.78" stroke="#141414" stroke-width="1.0" />
<line x1="285.14" y1="249.34" x2="277.80" y2="273.32" stroke="#141414" stroke-width="1.0" />
<line x1="296.98" y1="251.71" x2="292.60" y2="276.36" stroke="#141414" stroke-width="1.0" />
<line x1="309.06" y1="252.88" x2="307.70" y2="277.84" stroke="#141414" stroke-width="1.0" />
<line x1="321.21" y1="252.81" x2="322.89" y2="277.76" stroke="#141414" stroke-width="1.0" />
<line x1="333.27" y1="251.52" x2="337.97" y2="276.11" stroke="#141414" stroke-width="1.0" />
<line x1="345.08" y1="249.02" x2="352.73" y2="272.92" stroke="#141414" stroke-width="1.0" />
<line x1="356.47" y1="245.35" x2="366.96" y2="268.22" stroke="#141414" stroke-width="1.0" />
<line x1="367.28" y1="240.55" x2="380.48" y2="262.09" stroke="#141414" stroke-width="1.0" />
<line x1="377.38" y1="234.69" x2="393.10" y2="254.60" stroke="#141414" stroke-width="1.0" />
<line x1="386.61" y1="227.85" x2="404.64" y2="245.86" stroke="#141414" stroke-width="1.0" />
<line x1="394.86" y1="220.13" x2="414.96" y2="235.99" stroke="#141414" stroke-width="1.0" />
<line x1="402.02" y1="211.62" x2="423.90" y2="225.13" stroke="#141414" stroke-width="1.0" />
<line x1="407.97" y1="202.45" x2="431.34" y2="213.41" stroke="#141414" stroke-width="1.0" />
<line x1="412.66" y1="192.75" x2="437.19" y2="201.01" stroke="#141414" stroke-width="1.0" />
</g>
<path d="M230,232 Q260,262 315,262 Q368,262 400,228" stroke="#1a1a1a" stroke-width="1.2" fill="none"/>
<ellipse cx="314.5" cy="163" rx="96" ry="82" fill="#262626"/>
<path d="M238,205 Q262,240 316,242 Q370,240 394,204" stroke="#383838" stroke-width="2.2" fill="none" stroke-dasharray="1.2,1.4"/>
<path d="M232,212 Q236,222 244,232" stroke="#3a3a3a" stroke-width="3" fill="none" stroke-dasharray="2,1.5"/>
<ellipse cx="314.5" cy="163" rx="83" ry="67.5" fill="#060606"/>
<path d="M314,150 L405.9,152.8 L403.3,169.4 L318,150 Z" fill="#151515"/>
<path d="M314,150 L398.2,182.5 L388.8,197.0 L318,150 Z" fill="#151515"/>
<path d="M314,150 L378.5,207.5 L363.7,217.8 L318,150 Z" fill="#151515"/>
<path d="M314,150 L349.7,224.2 L331.6,228.8 L318,150 Z" fill="#151515"/>
<path d="M314,150 L316.0,230.0 L297.3,228.3 L318,150 Z" fill="#151515"/>
<path d="M314,150 L282.3,224.2 L265.7,216.3 L318,150 Z" fill="#151515"/>
<path d="M314,150 L253.5,207.5 L241.4,194.7 L318,150 Z" fill="#151515"/>
<path d="M314,150 L233.8,182.5 L228.0,166.6 L318,150 Z" fill="#151515"/>
<path d="M314,150 L226.1,152.8 L227.4,136.1 L318,150 Z" fill="#151515"/>
<ellipse cx="314.5" cy="163" rx="83" ry="67.5" fill="none" stroke="#1a1a1a" stroke-width="2.5"/>
<path d="M243,190 Q248,188 254,188.5 Q260,196 266,207 L262,210 Q252,198 243,190 Z" fill="url(#spk)"/>
<path d="M278.5,224 L287.7,210.8 L287.7,225.2 Z" fill="#b0b0b0"/>
<path d="M301,221.3 L329.8,220 L327.2,227.9 L302.2,227.9 Z" fill="#8e8e8e"/>
<path d="M344.2,208 L349.5,217.3 L341.6,220 Z" fill="#a0a0a0"/>
<path d="M361.4,199 L368,205.5 L364,206.8 Z" fill="#a8a8a8"/>
<path d="M377,182 L388,186 L384,190 Z" fill="#707070"/>
<rect x="241.2" y="264.1" width="152.2" height="12.1" fill="url(#eslab)"/>
<rect x="241.2" y="275.4" width="152.2" height="0.9" fill="#b8b8b8"/>
</svg>
<text x="413.00" y="184.30" font-size="19.5" font-weight="bold" text-anchor="start" fill="#000" >f</text>
<rect x="471.0" y="172.4" width="42" height="41.6" fill="#2c261e"/>
<rect x="475.2" y="176.2" width="34.6" height="37.4" fill="url(#fph)"/>
<rect x="475.2" y="174.4" width="34.6" height="2.0" fill="#3c3428"/>
<line x1="479.00" y1="186.60" x2="509.00" y2="186.60" stroke="#d0c6b4" stroke-width="0.5" />
<line x1="479.00" y1="200.20" x2="509.00" y2="200.20" stroke="#d0c6b4" stroke-width="0.5" />
<rect x="513.0" y="172.4" width="0.9" height="41.6" fill="#9a9a9a"/>
<rect x="513.9" y="172.4" width="42" height="41.6" fill="#2c261e"/>
<rect x="518.1" y="176.2" width="34.6" height="37.4" fill="url(#fph)"/>
<rect x="518.1" y="174.4" width="34.6" height="2.0" fill="#3c3428"/>
<line x1="521.90" y1="186.60" x2="551.90" y2="186.60" stroke="#d0c6b4" stroke-width="0.5" />
<line x1="521.90" y1="200.20" x2="551.90" y2="200.20" stroke="#d0c6b4" stroke-width="0.5" />
<rect x="555.9" y="172.4" width="0.9" height="41.6" fill="#9a9a9a"/>
<rect x="556.6" y="172.4" width="42" height="41.6" fill="#2c261e"/>
<rect x="560.8000000000001" y="176.2" width="34.6" height="37.4" fill="url(#fph)"/>
<rect x="560.8000000000001" y="174.4" width="34.6" height="2.0" fill="#3c3428"/>
<line x1="564.60" y1="186.60" x2="594.60" y2="186.60" stroke="#d0c6b4" stroke-width="0.5" />
<line x1="564.60" y1="200.20" x2="594.60" y2="200.20" stroke="#d0c6b4" stroke-width="0.5" />
<rect x="598.6" y="172.4" width="0.9" height="41.6" fill="#9a9a9a"/>
<text x="478.00" y="230.60" font-size="11.4" font-weight="bold" text-anchor="start" fill="#000" >ε=0%</text>
<text x="517.60" y="230.60" font-size="11.4" font-weight="bold" text-anchor="start" fill="#000" >ε=10%</text>
<text x="563.60" y="230.60" font-size="11.4" font-weight="bold" text-anchor="start" fill="#000" >ε=0%</text>
<polyline points="469.50,291.49 470.25,291.35 471.00,291.21 471.75,291.07 472.50,290.93 473.25,290.79 474.00,290.65 474.74,290.51 475.49,290.37 476.24,290.23 476.99,290.08 477.74,289.94 478.49,289.79 479.24,289.64 479.99,289.48 480.74,289.32 481.49,289.16 482.24,289.00 482.99,288.83 483.73,288.65 484.48,288.47 485.23,288.28 485.98,288.09 486.73,287.89 487.48,287.67 488.23,287.45 488.98,287.21 489.73,286.97 490.48,286.71 491.23,286.44 491.98,286.15 492.72,285.85 493.47,285.54 494.22,285.21 494.97,284.87 495.72,284.52 496.47,284.15 497.22,283.78 497.97,283.39 498.72,282.99 499.47,282.58 500.22,282.16 500.96,281.74 501.71,281.31 502.46,280.87 503.21,280.43 503.96,279.98 504.71,279.53 505.46,279.07 506.21,278.61 506.96,278.15 507.71,277.69 508.46,277.22 509.21,276.75 509.95,276.28 510.70,275.81 511.45,275.34 512.20,274.87 512.95,274.39 513.70,273.92 514.45,273.45 514.45,273.45 513.86,274.25 513.27,274.97 512.67,275.62 512.08,276.21 511.49,276.75 510.90,277.24 510.31,277.70 509.72,278.12 509.12,278.51 508.53,278.88 507.94,279.23 507.35,279.56 506.76,279.87 506.16,280.17 505.57,280.46 504.98,280.75 504.39,281.02 503.80,281.29 503.21,281.55 502.61,281.81 502.02,282.06 501.43,282.32 500.84,282.56 500.25,282.81 499.65,283.06 499.06,283.30 498.47,283.55 497.88,283.79 497.29,284.03 496.69,284.27 496.10,284.52 495.51,284.76 494.92,285.00 494.33,285.24 493.74,285.48 493.14,285.72 492.55,285.96 491.96,286.20 491.37,286.44 490.78,286.69 490.18,286.93 489.59,287.17 489.00,287.41 488.41,287.65 487.82,287.89 487.23,288.13 486.63,288.37 486.04,288.61 485.45,288.85 484.86,289.09 484.27,289.33 483.67,289.57 483.08,289.81 482.49,290.06 481.90,290.29 481.31,290.35 480.72,290.41 480.12,290.48 479.53,290.54 478.94,290.60 478.94,290.60 478.47,290.65 478.00,290.69 477.52,290.74 477.05,290.79 476.58,290.83 476.11,290.88 475.64,290.92 475.16,290.97 474.69,291.01 474.22,291.06 473.75,291.10 473.28,291.14 472.80,291.19 472.33,291.23 471.86,291.28 471.39,291.32 470.92,291.36 470.44,291.41 469.97,291.45 469.50,291.49" stroke="#ff4040" fill="none" stroke-width="1.0" stroke-linejoin="round"/>
<polyline points="469.50,291.49 470.51,291.31 471.51,291.14 472.52,290.97 473.53,290.79 474.54,290.62 475.55,290.44 476.55,290.26 477.56,290.08 478.57,289.89 479.57,289.70 480.58,289.50 481.59,289.30 482.60,289.09 483.61,288.88 484.61,288.65 485.62,288.41 486.63,288.16 487.63,287.89 488.64,287.61 489.65,287.30 490.66,286.98 491.67,286.63 492.67,286.26 493.68,285.87 494.69,285.45 495.69,285.01 496.70,284.55 497.71,284.07 498.72,283.57 499.73,283.06 500.73,282.53 501.74,281.99 502.75,281.44 503.75,280.89 504.76,280.32 505.77,279.75 506.78,279.17 507.78,278.59 508.79,278.01 509.80,277.42 510.81,276.83 511.81,276.24 512.82,275.65 513.83,275.05 514.84,274.46 515.85,273.86 516.85,273.27 517.86,272.67 518.87,272.07 519.88,271.47 520.88,270.88 521.89,270.28 522.90,269.68 523.90,269.08 524.91,268.48 525.92,267.88 526.93,267.29 527.93,266.69 528.94,266.09 529.95,265.49 529.95,265.49 529.15,266.64 528.36,267.68 527.56,268.62 526.77,269.47 525.97,270.25 525.17,270.96 524.38,271.62 523.58,272.22 522.79,272.79 521.99,273.32 521.19,273.82 520.40,274.30 519.60,274.75 518.81,275.18 518.01,275.60 517.22,276.01 516.42,276.40 515.62,276.79 514.83,277.17 514.03,277.54 513.24,277.90 512.44,278.27 511.64,278.63 510.85,278.98 510.05,279.34 509.26,279.69 508.46,280.04 507.66,280.39 506.87,280.74 506.07,281.09 505.28,281.44 504.48,281.79 503.68,282.13 502.89,282.48 502.09,282.83 501.30,283.18 500.50,283.52 499.70,283.87 498.91,284.22 498.11,284.56 497.32,284.91 496.52,285.26 495.73,285.60 494.93,285.95 494.13,286.30 493.34,286.64 492.54,286.99 491.75,287.34 490.95,287.69 490.15,288.03 489.36,288.38 488.56,288.73 487.77,289.07 486.97,289.42 486.17,289.77 485.38,289.99 484.58,290.08 483.79,290.17 482.99,290.26 482.19,290.34 482.19,290.34 481.56,290.40 480.93,290.47 480.29,290.53 479.66,290.59 479.02,290.65 478.39,290.71 477.75,290.77 477.12,290.83 476.48,290.89 475.85,290.94 475.21,291.00 474.58,291.06 473.94,291.11 473.31,291.17 472.67,291.22 472.04,291.28 471.40,291.33 470.77,291.38 470.13,291.44 469.50,291.49" stroke="#f08020" fill="none" stroke-width="1.0" stroke-linejoin="round"/>
<polyline points="469.50,291.49 470.77,291.27 472.03,291.05 473.30,290.83 474.56,290.61 475.83,290.38 477.10,290.15 478.36,289.92 479.63,289.68 480.89,289.43 482.16,289.17 483.42,288.90 484.69,288.61 485.96,288.31 487.22,287.98 488.49,287.62 489.75,287.24 491.02,286.82 492.29,286.37 493.55,285.87 494.82,285.35 496.08,284.78 497.35,284.19 498.61,283.56 499.88,282.91 501.15,282.24 502.41,281.55 503.68,280.85 504.94,280.13 506.21,279.41 507.48,278.67 508.74,277.93 510.01,277.19 511.27,276.44 512.54,275.69 513.80,274.94 515.07,274.19 516.34,273.43 517.60,272.68 518.87,271.92 520.13,271.17 521.40,270.41 522.66,269.65 523.93,268.89 525.20,268.14 526.46,267.38 527.73,266.62 528.99,265.86 530.26,265.10 531.53,264.35 532.79,263.59 534.06,262.83 535.32,262.07 536.59,261.31 537.86,260.55 539.12,259.80 540.39,259.04 541.65,258.28 542.92,257.52 544.18,256.76 545.45,256.00 545.45,256.00 544.45,257.58 543.45,258.99 542.45,260.27 541.45,261.44 540.45,262.50 539.45,263.47 538.45,264.36 537.45,265.19 536.45,265.97 535.45,266.69 534.45,267.37 533.45,268.02 532.45,268.64 531.45,269.23 530.45,269.80 529.45,270.36 528.45,270.90 527.45,271.42 526.45,271.94 525.45,272.45 524.45,272.95 523.45,273.44 522.45,273.93 521.45,274.42 520.45,274.90 519.45,275.38 518.45,275.86 517.45,276.34 516.45,276.82 515.45,277.29 514.45,277.77 513.45,278.24 512.45,278.72 511.45,279.19 510.45,279.67 509.45,280.14 508.45,280.61 507.45,281.09 506.45,281.56 505.45,282.03 504.45,282.51 503.45,282.98 502.45,283.45 501.45,283.93 500.45,284.40 499.45,284.87 498.45,285.35 497.45,285.82 496.45,286.29 495.45,286.77 494.45,287.24 493.45,287.71 492.45,288.19 491.45,288.66 490.45,289.13 489.45,289.42 488.45,289.57 487.45,289.71 486.45,289.84 485.45,289.97 485.45,289.97 484.65,290.06 483.85,290.15 483.06,290.24 482.26,290.32 481.46,290.41 480.66,290.49 479.87,290.56 479.07,290.64 478.27,290.72 477.47,290.79 476.68,290.86 475.88,290.94 475.08,291.01 474.28,291.08 473.49,291.15 472.69,291.22 471.89,291.29 471.09,291.36 470.30,291.42 469.50,291.49" stroke="#3070f0" fill="none" stroke-width="1.0" stroke-linejoin="round"/>
<polyline points="469.50,291.49 471.28,291.19 473.06,290.88 474.85,290.58 476.63,290.27 478.41,289.94 480.19,289.61 481.98,289.26 483.76,288.89 485.54,288.48 487.32,288.03 489.11,287.53 490.89,286.97 492.67,286.34 494.45,285.64 496.24,284.87 498.02,284.04 499.80,283.16 501.58,282.23 503.37,281.27 505.15,280.29 506.93,279.28 508.72,278.27 510.50,277.25 512.28,276.22 514.06,275.18 515.85,274.15 517.63,273.11 519.41,272.07 521.19,271.03 522.98,269.99 524.76,268.95 526.54,267.91 528.32,266.86 530.11,265.82 531.89,264.78 533.67,263.74 535.45,262.69 537.24,261.65 539.02,260.61 540.80,259.57 542.58,258.52 544.37,257.48 546.15,256.44 547.93,255.40 549.71,254.35 551.50,253.31 553.28,252.27 555.06,251.23 556.84,250.18 558.62,249.14 560.41,248.10 562.19,247.06 563.97,246.01 565.75,244.97 567.54,243.93 569.32,242.89 571.10,241.84 572.88,240.80 574.67,239.76 576.45,238.72 576.45,238.72 575.04,241.05 573.63,243.16 572.23,245.06 570.82,246.79 569.41,248.37 568.00,249.81 566.59,251.15 565.18,252.38 563.78,253.53 562.37,254.60 560.96,255.62 559.55,256.58 558.14,257.50 556.74,258.38 555.33,259.23 553.92,260.06 552.51,260.86 551.10,261.64 549.69,262.41 548.29,263.16 546.88,263.91 545.47,264.65 544.06,265.38 542.65,266.10 541.25,266.82 539.84,267.53 538.43,268.25 537.02,268.96 535.61,269.67 534.20,270.38 532.80,271.08 531.39,271.79 529.98,272.49 528.57,273.20 527.16,273.90 525.76,274.61 524.35,275.31 522.94,276.02 521.53,276.72 520.12,277.42 518.71,278.13 517.31,278.83 515.90,279.54 514.49,280.24 513.08,280.94 511.67,281.65 510.27,282.35 508.86,283.05 507.45,283.76 506.04,284.46 504.63,285.17 503.22,285.87 501.82,286.57 500.41,287.17 499.00,287.53 497.59,287.87 496.18,288.20 494.78,288.51 493.37,288.79 491.96,289.05 491.96,289.05 490.84,289.25 489.71,289.43 488.59,289.59 487.47,289.75 486.34,289.89 485.22,290.03 484.10,290.16 482.98,290.28 481.85,290.39 480.73,290.50 479.61,290.61 478.48,290.72 477.36,290.82 476.24,290.92 475.11,291.02 473.99,291.11 472.87,291.21 471.75,291.30 470.62,291.40 469.50,291.49" stroke="#30b070" fill="none" stroke-width="1.0" stroke-linejoin="round"/>
<polyline points="469.50,291.49 471.77,291.09 474.05,290.69 476.32,290.28 478.59,289.86 480.87,289.42 483.14,288.94 485.41,288.42 487.69,287.82 489.96,287.14 492.23,286.35 494.51,285.44 496.78,284.41 499.05,283.28 501.33,282.08 503.60,280.82 505.87,279.52 508.15,278.19 510.42,276.84 512.69,275.49 514.97,274.13 517.24,272.76 519.51,271.40 521.79,270.03 524.06,268.66 526.33,267.29 528.61,265.92 530.88,264.54 533.15,263.17 535.43,261.80 537.70,260.43 539.97,259.06 542.25,257.69 544.52,256.32 546.79,254.94 549.07,253.57 551.34,252.20 553.61,250.83 555.89,249.46 558.16,248.09 560.43,246.71 562.71,245.34 564.98,243.97 567.25,242.60 569.53,241.23 571.80,239.86 574.07,238.49 576.35,237.11 578.62,235.74 580.89,234.37 583.17,233.00 585.44,231.63 587.71,230.26 589.99,228.88 592.26,227.51 594.53,226.14 596.81,224.77 599.08,223.40 601.35,222.03 603.63,220.66 605.90,219.28 605.90,219.28 604.10,222.48 602.31,225.36 600.51,227.97 598.72,230.33 596.92,232.49 595.12,234.47 593.33,236.29 591.53,237.98 589.74,239.55 587.94,241.02 586.14,242.41 584.35,243.73 582.55,244.99 580.76,246.19 578.96,247.36 577.17,248.48 575.37,249.58 573.57,250.65 571.78,251.70 569.98,252.73 568.19,253.75 566.39,254.76 564.59,255.76 562.80,256.75 561.00,257.73 559.21,258.71 557.41,259.69 555.61,260.66 553.82,261.63 552.02,262.60 550.23,263.57 548.43,264.53 546.63,265.50 544.84,266.46 543.04,267.43 541.25,268.39 539.45,269.35 537.65,270.32 535.86,271.28 534.06,272.24 532.27,273.21 530.47,274.17 528.67,275.13 526.88,276.09 525.08,277.06 523.29,278.02 521.49,278.98 519.70,279.95 517.90,280.91 516.10,281.87 514.31,282.83 512.51,283.55 510.72,284.08 508.92,284.62 507.12,285.14 505.33,285.67 503.53,286.18 501.74,286.68 499.94,287.16 498.14,287.62 498.14,287.62 496.71,287.97 495.28,288.30 493.85,288.61 492.42,288.89 490.98,289.15 489.55,289.39 488.12,289.60 486.69,289.80 485.25,289.98 483.82,290.15 482.39,290.30 480.96,290.45 479.53,290.59 478.09,290.73 476.66,290.86 475.23,290.99 473.80,291.12 472.36,291.24 470.93,291.37 469.50,291.49" stroke="#b070e0" fill="none" stroke-width="1.0" stroke-linejoin="round"/>
<polyline points="469.50,291.49 472.03,291.03 474.56,290.56 477.10,290.09 479.63,289.59 482.16,289.06 484.69,288.47 487.22,287.81 489.75,287.03 492.29,286.12 494.82,285.05 497.35,283.84 499.88,282.50 502.41,281.07 504.94,279.58 507.48,278.05 510.01,276.50 512.54,274.93 515.07,273.35 517.60,271.77 520.13,270.18 522.66,268.59 525.20,267.01 527.73,265.42 530.26,263.83 532.79,262.24 535.32,260.65 537.86,259.06 540.39,257.47 542.92,255.88 545.45,254.29 547.98,252.70 550.51,251.11 553.05,249.52 555.58,247.93 558.11,246.34 560.64,244.75 563.17,243.16 565.70,241.57 568.24,239.98 570.77,238.39 573.30,236.80 575.83,235.21 578.36,233.62 580.89,232.03 583.42,230.44 585.96,228.85 588.49,227.26 591.02,225.67 593.55,224.08 596.08,222.49 598.62,220.90 601.15,219.31 603.68,217.72 606.21,216.13 608.74,214.54 611.27,212.95 613.81,211.36 616.34,209.77 618.87,208.18 621.40,206.58 621.40,206.58 619.40,210.34 617.40,213.73 615.40,216.80 613.40,219.58 611.40,222.11 609.40,224.44 607.40,226.58 605.40,228.57 603.40,230.41 601.40,232.15 599.40,233.78 597.40,235.33 595.40,236.81 593.40,238.23 591.40,239.59 589.40,240.92 587.40,242.21 585.40,243.47 583.40,244.70 581.40,245.92 579.40,247.12 577.40,248.30 575.40,249.47 573.40,250.64 571.40,251.80 569.40,252.95 567.40,254.09 565.40,255.24 563.40,256.38 561.40,257.52 559.40,258.65 557.40,259.79 555.40,260.92 553.40,262.06 551.40,263.19 549.40,264.33 547.40,265.46 545.40,266.59 543.40,267.72 541.40,268.86 539.40,269.99 537.40,271.12 535.40,272.25 533.40,273.38 531.40,274.52 529.40,275.65 527.40,276.78 525.40,277.91 523.40,279.05 521.40,280.18 519.40,281.07 517.40,281.70 515.40,282.32 513.40,282.95 511.40,283.57 509.40,284.19 507.40,284.80 505.40,285.40 503.40,286.00 501.40,286.58 501.40,286.58 499.80,287.02 498.21,287.45 496.61,287.85 495.02,288.23 493.42,288.58 491.83,288.90 490.23,289.18 488.64,289.44 487.04,289.68 485.45,289.89 483.85,290.09 482.26,290.27 480.66,290.44 479.07,290.60 477.47,290.76 475.88,290.91 474.28,291.06 472.69,291.20 471.09,291.35 469.50,291.49" stroke="#e0a020" fill="none" stroke-width="1.0" stroke-linejoin="round"/>
<polygon points="512.40,254.60 543.60,254.60 512.40,271.40" stroke="#000" fill="none" stroke-width="1.5" stroke-linejoin="miter"/>
<polygon points="472.30,285.80 487.80,285.80 472.30,289.40" stroke="#000" fill="none" stroke-width="1.4" />
<text x="516.40" y="252.60" font-size="12" font-weight="bold" text-anchor="start" fill="#000" >6.58</text>
<text x="471.40" y="283.80" font-size="11.8" font-weight="bold" text-anchor="start" fill="#000" >1.69</text>
<text x="574.00" y="278.60" font-size="11.9" font-weight="bold" text-anchor="start" fill="#000" ><tspan font-style="italic">E</tspan>=<tspan font-style="italic">σ</tspan>/<tspan font-style="italic">ε</tspan></text>
<rect x="469.5" y="169.5" width="155.00" height="125.00" fill="none" stroke="#555" stroke-width="1"/>
<line x1="466.50" y1="291.50" x2="469.50" y2="291.50" stroke="#555" stroke-width="0.8" />
<text transform="translate(464.90,293.90) scale(0.9,1)" font-size="8.4" font-weight="bold" text-anchor="end">0.0</text>
<line x1="466.50" y1="260.90" x2="469.50" y2="260.90" stroke="#555" stroke-width="0.8" />
<text transform="translate(464.90,263.30) scale(0.9,1)" font-size="8.4" font-weight="bold" text-anchor="end">0.2</text>
<line x1="466.50" y1="230.30" x2="469.50" y2="230.30" stroke="#555" stroke-width="0.8" />
<text transform="translate(464.90,232.70) scale(0.9,1)" font-size="8.4" font-weight="bold" text-anchor="end">0.4</text>
<line x1="466.50" y1="199.70" x2="469.50" y2="199.70" stroke="#555" stroke-width="0.8" />
<text transform="translate(464.90,202.10) scale(0.9,1)" font-size="8.4" font-weight="bold" text-anchor="end">0.6</text>
<line x1="466.50" y1="169.10" x2="469.50" y2="169.10" stroke="#555" stroke-width="0.8" />
<text transform="translate(464.90,171.50) scale(0.9,1)" font-size="8.4" font-weight="bold" text-anchor="end">0.8</text>
<line x1="467.70" y1="276.20" x2="469.50" y2="276.20" stroke="#555" stroke-width="0.8" />
<line x1="467.70" y1="245.60" x2="469.50" y2="245.60" stroke="#555" stroke-width="0.8" />
<line x1="467.70" y1="215.00" x2="469.50" y2="215.00" stroke="#555" stroke-width="0.8" />
<line x1="467.70" y1="184.40" x2="469.50" y2="184.40" stroke="#555" stroke-width="0.8" />
<line x1="469.50" y1="294.50" x2="469.50" y2="297.50" stroke="#555" stroke-width="0.8" />
<text transform="translate(469.50,304.20) scale(0.9,1)" font-size="8.4" font-weight="bold" text-anchor="middle">0</text>
<line x1="485.00" y1="294.50" x2="485.00" y2="296.30" stroke="#555" stroke-width="0.8" />
<line x1="500.50" y1="294.50" x2="500.50" y2="297.50" stroke="#555" stroke-width="0.8" />
<text transform="translate(500.50,304.20) scale(0.9,1)" font-size="8.4" font-weight="bold" text-anchor="middle">2</text>
<line x1="516.00" y1="294.50" x2="516.00" y2="296.30" stroke="#555" stroke-width="0.8" />
<line x1="531.50" y1="294.50" x2="531.50" y2="297.50" stroke="#555" stroke-width="0.8" />
<text transform="translate(531.50,304.20) scale(0.9,1)" font-size="8.4" font-weight="bold" text-anchor="middle">4</text>
<line x1="547.00" y1="294.50" x2="547.00" y2="296.30" stroke="#555" stroke-width="0.8" />
<line x1="562.50" y1="294.50" x2="562.50" y2="297.50" stroke="#555" stroke-width="0.8" />
<text transform="translate(562.50,304.20) scale(0.9,1)" font-size="8.4" font-weight="bold" text-anchor="middle">6</text>
<line x1="578.00" y1="294.50" x2="578.00" y2="296.30" stroke="#555" stroke-width="0.8" />
<line x1="593.50" y1="294.50" x2="593.50" y2="297.50" stroke="#555" stroke-width="0.8" />
<text transform="translate(593.50,304.20) scale(0.9,1)" font-size="8.4" font-weight="bold" text-anchor="middle">8</text>
<line x1="609.00" y1="294.50" x2="609.00" y2="296.30" stroke="#555" stroke-width="0.8" />
<line x1="624.50" y1="294.50" x2="624.50" y2="297.50" stroke="#555" stroke-width="0.8" />
<text transform="translate(624.50,304.20) scale(0.9,1)" font-size="8.4" font-weight="bold" text-anchor="middle">10</text>
<text x="547.50" y="320.00" font-size="10.3" font-weight="bold" text-anchor="middle" fill="#000" >Strain / %</text>
<text transform="translate(447.8,225.4) rotate(-90)" font-size="10.27" font-weight="bold" text-anchor="middle">Compress stress / MPa</text>
<text x="-0.30" y="333.50" font-size="19.5" font-weight="bold" text-anchor="start" fill="#000" >g</text>
<polyline points="42.50,445.38 44.37,445.36 46.25,445.31 48.12,445.20 50.00,445.01 51.87,444.66 53.75,444.13 55.62,443.39 57.49,442.48 59.37,441.44 61.24,440.31 63.12,439.13 64.99,437.91 66.87,436.65 68.74,435.38 70.61,434.08 72.49,432.77 74.36,431.44 76.24,430.09 78.11,428.73 79.99,427.37 81.86,425.99 83.73,424.59 85.61,423.19 87.48,421.78 89.36,420.36 91.23,418.94 93.10,417.50 94.98,416.06 96.85,414.60 98.73,413.14 100.60,411.68 102.48,410.20 104.35,408.72 106.22,407.24 108.10,405.75 109.97,404.25 111.85,402.74 113.72,401.23 115.60,399.72 117.47,398.19 119.34,396.67 121.22,395.14 123.09,393.60 124.97,392.06 126.84,390.51 128.72,388.96 130.59,387.41 132.46,385.85 134.34,384.28 136.21,382.71 138.09,381.14 139.96,379.56 141.84,377.98 143.71,376.40 145.58,374.81 147.46,373.21 149.33,371.62 151.21,370.02 153.08,368.41 154.95,366.80 156.83,365.19 158.70,363.58 160.58,361.96 162.45,360.34 164.33,358.71 166.20,357.09 168.07,355.45 169.95,353.82 171.82,352.18 173.70,350.54 175.57,348.90 177.45,347.25 179.32,345.60 181.19,343.95 183.07,342.29 184.94,340.64 186.82,338.97 188.69,337.31 190.57,335.64 192.44,333.97 192.44,333.97 191.09,337.71 189.74,341.33 188.40,344.84 187.05,348.24 185.70,351.53 184.35,354.73 183.00,357.82 181.65,360.83 180.31,363.73 178.96,366.55 177.61,369.29 176.26,371.93 174.91,374.50 173.56,376.99 172.22,379.40 170.87,381.74 169.52,384.00 168.17,386.20 166.82,388.33 165.47,390.39 164.13,392.39 162.78,394.33 161.43,396.20 160.08,398.02 158.73,399.79 157.38,401.50 156.04,403.15 154.69,404.76 153.34,406.32 151.99,407.83 150.64,409.29 149.29,410.71 147.95,412.08 146.60,413.41 145.25,414.70 143.90,415.95 142.55,417.17 141.20,418.34 139.86,419.48 138.51,420.59 137.16,421.66 135.81,422.69 134.46,423.70 133.11,424.67 131.77,425.62 130.42,426.53 129.07,427.42 127.72,428.28 126.37,429.11 125.02,429.92 123.68,430.70 122.33,431.46 120.98,432.20 119.63,432.91 118.28,433.60 116.93,434.27 115.59,434.92 114.24,435.55 112.89,436.16 111.54,436.75 110.19,437.32 108.84,437.88 107.50,438.41 106.15,438.94 104.80,439.44 103.45,439.93 102.10,440.41 100.75,440.87 99.41,441.31 98.06,441.74 96.71,442.16 95.36,442.57 94.01,442.96 92.66,443.35 91.32,443.71 89.97,444.07 88.62,444.42 87.27,444.76 85.92,445.08 84.58,445.40 84.58,445.40 80.37,445.40 76.16,445.40 71.95,445.40 67.75,445.40 63.54,445.40 59.33,445.40 55.12,445.40 50.91,445.40 46.71,445.40 42.50,445.40" stroke="#2aa0a8" fill="none" stroke-width="1.2" stroke-linejoin="round"/>
<polyline points="42.50,445.38 43.91,445.37 45.31,445.34 46.72,445.30 48.12,445.23 49.53,445.11 50.93,444.92 52.34,444.64 53.75,444.27 55.15,443.79 56.56,443.23 57.96,442.58 59.37,441.88 60.77,441.14 62.18,440.37 63.59,439.57 64.99,438.75 66.40,437.92 67.80,437.08 69.21,436.22 70.61,435.36 72.02,434.48 73.43,433.60 74.83,432.71 76.24,431.82 77.64,430.92 79.05,430.01 80.45,429.09 81.86,428.17 83.26,427.25 84.67,426.32 86.08,425.39 87.48,424.45 88.89,423.50 90.29,422.55 91.70,421.60 93.10,420.64 94.51,419.68 95.92,418.72 97.32,417.75 98.73,416.78 100.13,415.80 101.54,414.83 102.94,413.84 104.35,412.86 105.76,411.87 107.16,410.88 108.57,409.88 109.97,408.89 111.38,407.88 112.78,406.88 114.19,405.87 115.60,404.87 117.00,403.85 118.41,402.84 119.81,401.82 121.22,400.80 122.62,399.78 124.03,398.76 125.44,397.73 126.84,396.70 128.25,395.67 129.65,394.63 131.06,393.60 132.46,392.56 133.87,391.52 135.28,390.47 136.68,389.43 138.09,388.38 139.49,387.33 140.90,386.28 142.30,385.23 143.71,384.17 145.12,383.12 146.52,382.06 147.93,381.00 149.33,379.93 150.74,378.87 152.14,377.80 153.55,376.73 154.95,375.66 154.95,375.66 153.88,378.00 152.81,380.27 151.74,382.46 150.67,384.59 149.60,386.65 148.53,388.65 147.46,390.59 146.39,392.47 145.32,394.29 144.25,396.05 143.17,397.76 142.10,399.42 141.03,401.03 139.96,402.58 138.89,404.09 137.82,405.56 136.75,406.97 135.68,408.35 134.61,409.68 133.53,410.97 132.46,412.22 131.39,413.43 130.32,414.61 129.25,415.75 128.18,416.85 127.11,417.92 126.04,418.96 124.97,419.97 123.90,420.94 122.83,421.89 121.75,422.80 120.68,423.69 119.61,424.55 118.54,425.38 117.47,426.19 116.40,426.97 115.33,427.73 114.26,428.47 113.19,429.18 112.11,429.87 111.04,430.54 109.97,431.19 108.90,431.82 107.83,432.43 106.76,433.02 105.69,433.59 104.62,434.15 103.55,434.68 102.48,435.21 101.41,435.71 100.33,436.20 99.26,436.68 98.19,437.14 97.12,437.58 96.05,438.02 94.98,438.43 93.91,438.84 92.84,439.23 91.77,439.62 90.69,439.99 89.62,440.34 88.55,440.69 87.48,441.03 86.41,441.35 85.34,441.67 84.27,441.98 83.20,442.27 82.13,442.56 81.06,442.84 79.98,443.11 78.91,443.37 77.84,443.63 76.77,443.88 75.70,444.11 74.63,444.35 73.56,444.57 72.49,444.79 71.42,445.00 70.35,445.20 69.28,445.40 69.28,445.40 66.60,445.40 63.92,445.40 61.24,445.40 58.56,445.40 55.89,445.40 53.21,445.40 50.53,445.40 47.86,445.40 45.18,445.40 42.50,445.40" stroke="#c030c8" fill="none" stroke-width="1.2" stroke-linejoin="round"/>
<rect x="42.5" y="324.5" width="154.00" height="124.00" fill="none" stroke="#555" stroke-width="1"/>
<line x1="39.50" y1="445.40" x2="42.50" y2="445.40" stroke="#555" stroke-width="0.8" />
<text transform="translate(37.90,447.80) scale(0.9,1)" font-size="8.4" font-weight="bold" text-anchor="end">0.0</text>
<line x1="39.50" y1="407.50" x2="42.50" y2="407.50" stroke="#555" stroke-width="0.8" />
<text transform="translate(37.90,409.90) scale(0.9,1)" font-size="8.4" font-weight="bold" text-anchor="end">0.5</text>
<line x1="39.50" y1="369.60" x2="42.50" y2="369.60" stroke="#555" stroke-width="0.8" />
<text transform="translate(37.90,372.00) scale(0.9,1)" font-size="8.4" font-weight="bold" text-anchor="end">1.0</text>
<line x1="39.50" y1="331.70" x2="42.50" y2="331.70" stroke="#555" stroke-width="0.8" />
<text transform="translate(37.90,334.10) scale(0.9,1)" font-size="8.4" font-weight="bold" text-anchor="end">1.5</text>
<line x1="40.70" y1="426.45" x2="42.50" y2="426.45" stroke="#555" stroke-width="0.8" />
<line x1="40.70" y1="388.55" x2="42.50" y2="388.55" stroke="#555" stroke-width="0.8" />
<line x1="40.70" y1="350.65" x2="42.50" y2="350.65" stroke="#555" stroke-width="0.8" />
<line x1="42.50" y1="448.50" x2="42.50" y2="451.50" stroke="#555" stroke-width="0.8" />
<text transform="translate(42.50,458.20) scale(0.9,1)" font-size="8.4" font-weight="bold" text-anchor="middle">0</text>
<line x1="80.75" y1="448.50" x2="80.75" y2="451.50" stroke="#555" stroke-width="0.8" />
<text transform="translate(80.75,458.20) scale(0.9,1)" font-size="8.4" font-weight="bold" text-anchor="middle">5</text>
<line x1="119.00" y1="448.50" x2="119.00" y2="451.50" stroke="#555" stroke-width="0.8" />
<text transform="translate(119.00,458.20) scale(0.9,1)" font-size="8.4" font-weight="bold" text-anchor="middle">10</text>
<line x1="157.25" y1="448.50" x2="157.25" y2="451.50" stroke="#555" stroke-width="0.8" />
<text transform="translate(157.25,458.20) scale(0.9,1)" font-size="8.4" font-weight="bold" text-anchor="middle">15</text>
<line x1="195.50" y1="448.50" x2="195.50" y2="451.50" stroke="#555" stroke-width="0.8" />
<text transform="translate(195.50,458.20) scale(0.9,1)" font-size="8.4" font-weight="bold" text-anchor="middle">20</text>
<line x1="61.62" y1="448.50" x2="61.62" y2="450.30" stroke="#555" stroke-width="0.8" />
<line x1="99.88" y1="448.50" x2="99.88" y2="450.30" stroke="#555" stroke-width="0.8" />
<line x1="138.12" y1="448.50" x2="138.12" y2="450.30" stroke="#555" stroke-width="0.8" />
<line x1="176.38" y1="448.50" x2="176.38" y2="450.30" stroke="#555" stroke-width="0.8" />
<text x="119.80" y="473.30" font-size="10.2" font-weight="bold" text-anchor="middle" fill="#000" >Strain / %</text>
<text transform="translate(21.1,386.2) rotate(-90)" font-size="10.15" font-weight="bold" text-anchor="middle">Compress stress / MPa</text>
<line x1="133.20" y1="350.50" x2="149.25" y2="359.25" stroke="#000" stroke-width="2.2" />
<polygon points="155.40,362.60 147.53,362.41 150.98,356.09" fill="#000"/>
<line x1="100.40" y1="375.00" x2="128.37" y2="387.03" stroke="#000" stroke-width="2.2" />
<polygon points="134.80,389.80 126.95,390.34 129.79,383.73" fill="#000"/>
<text x="113.50" y="343.00" font-size="12.3" font-weight="bold" text-anchor="start" fill="#000" ><tspan font-style="italic">ε</tspan>=20%</text>
<text x="79.80" y="365.90" font-size="12.3" font-weight="bold" text-anchor="start" fill="#000" ><tspan font-style="italic">ε</tspan>=15%</text>
<text x="207.60" y="332.90" font-size="19.5" font-weight="bold" text-anchor="start" fill="#000" >h</text>
<rect x="249.0" y="425.86" width="77.18" height="22.64" fill="#fbe0c6"/>
<rect x="249.0" y="324.0" width="154.50" height="124.50" fill="none" stroke="#555" stroke-width="1"/>
<line x1="246.00" y1="445.30" x2="249.00" y2="445.30" stroke="#555" stroke-width="0.8" />
<text transform="translate(244.40,447.70) scale(0.9,1)" font-size="8.4" font-weight="bold" text-anchor="end">0</text>
<line x1="247.20" y1="433.15" x2="249.00" y2="433.15" stroke="#555" stroke-width="0.8" />
<line x1="246.00" y1="421.00" x2="249.00" y2="421.00" stroke="#555" stroke-width="0.8" />
<text transform="translate(244.40,423.40) scale(0.9,1)" font-size="8.4" font-weight="bold" text-anchor="end">1</text>
<line x1="247.20" y1="408.85" x2="249.00" y2="408.85" stroke="#555" stroke-width="0.8" />
<line x1="246.00" y1="396.70" x2="249.00" y2="396.70" stroke="#555" stroke-width="0.8" />
<text transform="translate(244.40,399.10) scale(0.9,1)" font-size="8.4" font-weight="bold" text-anchor="end">2</text>
<line x1="247.20" y1="384.55" x2="249.00" y2="384.55" stroke="#555" stroke-width="0.8" />
<line x1="246.00" y1="372.40" x2="249.00" y2="372.40" stroke="#555" stroke-width="0.8" />
<text transform="translate(244.40,374.80) scale(0.9,1)" font-size="8.4" font-weight="bold" text-anchor="end">3</text>
<line x1="247.20" y1="360.25" x2="249.00" y2="360.25" stroke="#555" stroke-width="0.8" />
<line x1="246.00" y1="348.10" x2="249.00" y2="348.10" stroke="#555" stroke-width="0.8" />
<text transform="translate(244.40,350.50) scale(0.9,1)" font-size="8.4" font-weight="bold" text-anchor="end">4</text>
<line x1="247.20" y1="335.95" x2="249.00" y2="335.95" stroke="#555" stroke-width="0.8" />
<line x1="246.00" y1="323.80" x2="249.00" y2="323.80" stroke="#555" stroke-width="0.8" />
<text transform="translate(244.40,326.20) scale(0.9,1)" font-size="8.4" font-weight="bold" text-anchor="end">5</text>
<line x1="249.00" y1="448.50" x2="249.00" y2="451.50" stroke="#555" stroke-width="0.8" />
<text transform="translate(249.00,458.20) scale(0.9,1)" font-size="8.4" font-weight="bold" text-anchor="middle">0</text>
<line x1="285.75" y1="448.50" x2="285.75" y2="451.50" stroke="#555" stroke-width="0.8" />
<text transform="translate(285.75,458.20) scale(0.9,1)" font-size="8.4" font-weight="bold" text-anchor="middle">5</text>
<line x1="322.50" y1="448.50" x2="322.50" y2="451.50" stroke="#555" stroke-width="0.8" />
<text transform="translate(322.50,458.20) scale(0.9,1)" font-size="8.4" font-weight="bold" text-anchor="middle">10</text>
<line x1="359.25" y1="448.50" x2="359.25" y2="451.50" stroke="#555" stroke-width="0.8" />
<text transform="translate(359.25,458.20) scale(0.9,1)" font-size="8.4" font-weight="bold" text-anchor="middle">15</text>
<line x1="396.00" y1="448.50" x2="396.00" y2="451.50" stroke="#555" stroke-width="0.8" />
<text transform="translate(396.00,458.20) scale(0.9,1)" font-size="8.4" font-weight="bold" text-anchor="middle">20</text>
<line x1="267.38" y1="448.50" x2="267.38" y2="450.30" stroke="#555" stroke-width="0.8" />
<line x1="304.12" y1="448.50" x2="304.12" y2="450.30" stroke="#555" stroke-width="0.8" />
<line x1="340.88" y1="448.50" x2="340.88" y2="450.30" stroke="#555" stroke-width="0.8" />
<line x1="377.62" y1="448.50" x2="377.62" y2="450.30" stroke="#555" stroke-width="0.8" />
<rect x="253.65" y="441.79" width="5.4" height="5.4" rx="0.8" fill="#2a1488" stroke="#2a1488" stroke-width="0.7"/>
<rect x="254.65" y="442.99" width="3.4" height="1.0" fill="#e0e0ff"/>
<rect x="268.35" y="440.08" width="5.4" height="5.4" rx="0.8" fill="#2a1488" stroke="#2a1488" stroke-width="0.7"/>
<rect x="269.35" y="441.28" width="3.4" height="1.0" fill="#e0e0ff"/>
<rect x="283.05" y="437.65" width="5.4" height="5.4" rx="0.8" fill="#2a1488" stroke="#2a1488" stroke-width="0.7"/>
<rect x="284.05" y="438.85" width="3.4" height="1.0" fill="#e0e0ff"/>
<rect x="297.75" y="433.04" width="5.4" height="5.4" rx="0.8" fill="#2a1488" stroke="#2a1488" stroke-width="0.7"/>
<rect x="298.75" y="434.24" width="3.4" height="1.0" fill="#e0e0ff"/>
<rect x="312.45" y="426.96" width="5.4" height="5.4" rx="0.8" fill="#2a1488" stroke="#2a1488" stroke-width="0.7"/>
<rect x="313.45" y="428.16" width="3.4" height="1.0" fill="#e0e0ff"/>
<rect x="319.80" y="427.45" width="5.4" height="5.4" rx="0.8" fill="#2a1488" stroke="#2a1488" stroke-width="0.7"/>
<rect x="320.80" y="428.65" width="3.4" height="1.0" fill="#e0e0ff"/>
<circle cx="359.25" cy="390.14" r="3.3" fill="#8a0a8a"/>
<circle cx="358.15" cy="389.04" r="0.45" fill="#f0c0f0"/>
<circle cx="360.35" cy="389.04" r="0.45" fill="#f0c0f0"/>
<circle cx="358.15" cy="391.24" r="0.45" fill="#f0c0f0"/>
<circle cx="360.35" cy="391.24" r="0.45" fill="#f0c0f0"/>
<circle cx="359.25" cy="390.14" r="0.45" fill="#f0c0f0"/>
<circle cx="396.00" cy="343.24" r="3.3" fill="#8a0a8a"/>
<circle cx="394.90" cy="342.14" r="0.45" fill="#f0c0f0"/>
<circle cx="397.10" cy="342.14" r="0.45" fill="#f0c0f0"/>
<circle cx="394.90" cy="344.34" r="0.45" fill="#f0c0f0"/>
<circle cx="397.10" cy="344.34" r="0.45" fill="#f0c0f0"/>
<circle cx="396.00" cy="343.24" r="0.45" fill="#f0c0f0"/>
<text x="326.50" y="474.00" font-size="10.3" font-weight="bold" text-anchor="middle" fill="#000" >Maximum strain / %</text>
<text transform="translate(237.7,385.85) rotate(-90)" font-size="10.4" font-weight="bold" text-anchor="middle">Residual strain / %</text>
<text x="412.40" y="333.00" font-size="19.5" font-weight="bold" text-anchor="start" fill="#000" >i</text>
<polygon points="502.20,351.93 558.86,393.09 537.22,459.69 467.18,459.69 445.54,393.09" stroke="#d0d0d0" fill="#fff" stroke-width="0.8" />
<polygon points="502.20,355.30 555.65,394.13 535.23,456.97 469.17,456.97 448.75,394.13" stroke="#ff2020" fill="#fddada" stroke-width="1.15" />
<polygon points="502.20,400.26 512.89,408.03 508.81,420.59 495.59,420.59 491.51,408.03" stroke="#b8a8a8" fill="none" stroke-width="0.45" />
<polygon points="502.20,389.02 523.58,404.55 515.41,429.69 488.99,429.69 480.82,404.55" stroke="#b8a8a8" fill="none" stroke-width="0.45" />
<polygon points="502.20,377.78 534.27,401.08 522.02,438.78 482.38,438.78 470.13,401.08" stroke="#b8a8a8" fill="none" stroke-width="0.45" />
<polygon points="502.20,366.54 544.96,397.61 528.63,447.87 475.77,447.87 459.44,397.61" stroke="#b8a8a8" fill="none" stroke-width="0.45" />
<polygon points="502.20,400.26 555.65,394.13 522.02,438.78 476.10,447.42 502.20,411.50" stroke="#303030" fill="none" stroke-width="0.9" />
<circle cx="502.20" cy="400.26" r="1.5" fill="#303030"/>
<circle cx="555.65" cy="394.13" r="1.5" fill="#303030"/>
<circle cx="522.02" cy="438.78" r="1.5" fill="#303030"/>
<circle cx="476.10" cy="447.42" r="1.5" fill="#303030"/>
<circle cx="502.20" cy="411.50" r="1.5" fill="#303030"/>
<polygon points="502.20,366.54 548.17,396.56 535.23,456.97 490.31,427.87 502.20,411.50" stroke="#409020" fill="none" stroke-width="0.9" />
<circle cx="502.20" cy="366.54" r="1.5" fill="#409020"/>
<circle cx="548.17" cy="396.56" r="1.5" fill="#409020"/>
<circle cx="535.23" cy="456.97" r="1.5" fill="#409020"/>
<circle cx="490.31" cy="427.87" r="1.5" fill="#409020"/>
<circle cx="502.20" cy="411.50" r="1.5" fill="#409020"/>
<polygon points="502.20,398.01 547.10,396.91 521.69,438.33 488.99,429.69 502.20,411.50" stroke="#3030f0" fill="none" stroke-width="0.9" />
<circle cx="502.20" cy="398.01" r="1.5" fill="#3030f0"/>
<circle cx="547.10" cy="396.91" r="1.5" fill="#3030f0"/>
<circle cx="521.69" cy="438.33" r="1.5" fill="#3030f0"/>
<circle cx="488.99" cy="429.69" r="1.5" fill="#3030f0"/>
<circle cx="502.20" cy="411.50" r="1.5" fill="#3030f0"/>
<polygon points="502.20,369.91 540.68,399.00 528.63,447.87 482.05,439.23 502.20,411.50" stroke="#ff30a0" fill="none" stroke-width="0.9" />
<circle cx="502.20" cy="369.91" r="1.5" fill="#ff30a0"/>
<circle cx="540.68" cy="399.00" r="1.5" fill="#ff30a0"/>
<circle cx="528.63" cy="447.87" r="1.5" fill="#ff30a0"/>
<circle cx="482.05" cy="439.23" r="1.5" fill="#ff30a0"/>
<circle cx="502.20" cy="411.50" r="1.5" fill="#ff30a0"/>
<line x1="502.20" y1="411.50" x2="502.20" y2="355.30" stroke="#4a3a3a" stroke-width="0.9" />
<line x1="502.20" y1="411.50" x2="555.65" y2="394.13" stroke="#4a3a3a" stroke-width="0.9" />
<line x1="502.20" y1="411.50" x2="535.23" y2="456.97" stroke="#4a3a3a" stroke-width="0.9" />
<line x1="502.20" y1="411.50" x2="469.17" y2="456.97" stroke="#4a3a3a" stroke-width="0.9" />
<line x1="502.20" y1="411.50" x2="448.75" y2="394.13" stroke="#4a3a3a" stroke-width="0.9" />
<circle cx="502.2" cy="411.5" r="1.5" fill="#ff30a0"/>
<polygon points="502.20,352.10 503.05,354.14 505.24,354.31 503.57,355.74 504.08,357.89 502.20,356.74 500.32,357.89 500.83,355.74 499.16,354.31 501.35,354.14" stroke="none" fill="#ff0000" stroke-width="1" />
<polygon points="555.65,390.93 556.50,392.97 558.69,393.14 557.02,394.58 557.53,396.72 555.65,395.57 553.77,396.72 554.28,394.58 552.61,393.14 554.80,392.97" stroke="none" fill="#ff0000" stroke-width="1" />
<polygon points="535.23,453.77 536.08,455.80 538.28,455.98 536.60,457.41 537.11,459.56 535.23,458.41 533.35,459.56 533.86,457.41 532.19,455.98 534.39,455.80" stroke="none" fill="#ff0000" stroke-width="1" />
<polygon points="469.17,453.77 470.01,455.80 472.21,455.98 470.54,457.41 471.05,459.56 469.17,458.41 467.29,459.56 467.80,457.41 466.12,455.98 468.32,455.80" stroke="none" fill="#ff0000" stroke-width="1" />
<polygon points="448.75,390.93 449.60,392.97 451.79,393.14 450.12,394.58 450.63,396.72 448.75,395.57 446.87,396.72 447.38,394.58 445.71,393.14 447.90,392.97" stroke="none" fill="#ff0000" stroke-width="1" />
<polygon points="502.20,350.24 503.90,353.44 500.50,353.44" fill="#000"/>
<polygon points="560.46,392.57 557.94,395.18 556.89,391.94" fill="#000"/>
<polygon points="538.21,461.06 534.95,459.47 537.70,457.47" fill="#000"/>
<polygon points="466.19,461.06 466.70,457.47 469.45,459.47" fill="#000"/>
<polygon points="443.94,392.57 447.51,391.94 446.46,395.18" fill="#000"/>
<text transform="translate(500.80,402.90) scale(0.88,1)" font-size="7.2" font-weight="bold" text-anchor="end">30</text>
<text transform="translate(500.80,390.90) scale(0.88,1)" font-size="7.2" font-weight="bold" text-anchor="end">60</text>
<text transform="translate(500.80,378.90) scale(0.88,1)" font-size="7.2" font-weight="bold" text-anchor="end">90</text>
<text transform="translate(500.80,366.90) scale(0.88,1)" font-size="7.2" font-weight="bold" text-anchor="end">120</text>
<text transform="translate(500.80,354.90) scale(0.88,1)" font-size="7.2" font-weight="bold" text-anchor="end">150</text>
<text transform="translate(472.70,461.00) scale(0.88,1)" font-size="7.2" font-weight="bold" text-anchor="start">-60</text>
<text transform="translate(483.40,447.70) scale(0.88,1)" font-size="7.2" font-weight="bold" text-anchor="start">-40</text>
<text transform="translate(494.60,433.40) scale(0.88,1)" font-size="7.2" font-weight="bold" text-anchor="start">-20</text>
<text transform="translate(502.80,418.00) scale(0.88,1)" font-size="7.2" font-weight="bold" text-anchor="start">0</text>
<text transform="translate(507.90,419.10) scale(0.88,1)" font-size="7.2" font-weight="bold" text-anchor="start">200</text>
<text transform="translate(516.00,428.90) scale(0.88,1)" font-size="7.2" font-weight="bold" text-anchor="start">400</text>
<text transform="translate(522.20,437.00) scale(0.88,1)" font-size="7.2" font-weight="bold" text-anchor="start">600</text>
<text transform="translate(528.30,446.30) scale(0.88,1)" font-size="7.2" font-weight="bold" text-anchor="start">800</text>
<text transform="translate(536.50,454.80) scale(0.88,1)" font-size="7.2" font-weight="bold" text-anchor="start">1000</text>
<text transform="translate(509.50,407.20) scale(0.88,1)" font-size="7.2" font-weight="bold" text-anchor="start">20</text>
<text transform="translate(519.10,403.70) scale(0.88,1)" font-size="7.2" font-weight="bold" text-anchor="start">40</text>
<text transform="translate(529.30,400.70) scale(0.88,1)" font-size="7.2" font-weight="bold" text-anchor="start">60</text>
<text transform="translate(539.60,396.60) scale(0.88,1)" font-size="7.2" font-weight="bold" text-anchor="start">80</text>
<text transform="translate(550.00,392.00) scale(0.88,1)" font-size="7.2" font-weight="bold" text-anchor="start">100</text>
<text transform="translate(495.50,416.60) scale(0.88,1)" font-size="7.2" font-weight="bold" text-anchor="middle">1</text>
<text transform="translate(487.20,414.05) scale(0.88,1)" font-size="7.2" font-weight="bold" text-anchor="middle">2</text>
<text transform="translate(478.90,411.50) scale(0.88,1)" font-size="7.2" font-weight="bold" text-anchor="middle">3</text>
<text transform="translate(470.60,408.95) scale(0.88,1)" font-size="7.2" font-weight="bold" text-anchor="middle">4</text>
<text transform="translate(462.30,406.40) scale(0.88,1)" font-size="7.2" font-weight="bold" text-anchor="middle">5</text>
<text transform="translate(454.00,403.85) scale(0.88,1)" font-size="7.2" font-weight="bold" text-anchor="middle">6</text>
<text transform="translate(445.70,401.30) scale(0.88,1)" font-size="7.2" font-weight="bold" text-anchor="middle">7</text>
<text x="506.50" y="333.40" font-size="9.7" font-weight="bold" text-anchor="middle" fill="#000" font-style="italic" >Relative bandwidth</text>
<text x="507.60" y="345.70" font-size="9.7" font-weight="bold" text-anchor="middle" fill="#000" font-style="italic" >at high-temperature / %</text>
<text x="560.40" y="378.00" font-size="9.7" font-weight="bold" text-anchor="start" fill="#000" font-style="italic" >Bandwidth retention</text>
<text x="560.40" y="389.60" font-size="9.7" font-weight="bold" text-anchor="start" fill="#000" font-style="italic" >at high-temperature / %</text>
<text x="407.00" y="391.00" font-size="9.7" font-weight="bold" text-anchor="start" fill="#000" font-style="italic" >E<tspan font-size="7" dy="2.5">c</tspan><tspan dy="-2.5"> / MPa</tspan></text>
<text x="419.90" y="471.90" font-size="9.7" font-weight="bold" text-anchor="start" fill="#000" font-style="italic" >RL<tspan font-size="7" dy="2.5">min</tspan><tspan dy="-2.5"> / dB</tspan></text>
<text x="542.50" y="473.60" font-size="9.7" font-weight="bold" text-anchor="start" fill="#000" font-style="italic" >Temperature / °C</text>
<rect x="563.4" y="395.6" width="76.6" height="64.4" fill="#fff" stroke="#a0a0a0" stroke-width="0.8"/>
<line x1="564.00" y1="402.00" x2="583.60" y2="402.00" stroke="#303030" stroke-width="0.9" />
<circle cx="574" cy="402.0" r="1.3" fill="#303030"/>
<text x="586.60" y="405.20" font-size="8.7" font-weight="bold" text-anchor="start" fill="#000" >SiC<tspan font-size="6" dy="2">nw</tspan><tspan dy="-2">-SiC</tspan><tspan font-size="6" dy="2">w</tspan></text>
<line x1="564.00" y1="415.40" x2="583.60" y2="415.40" stroke="#409020" stroke-width="0.9" />
<circle cx="574" cy="415.4" r="1.3" fill="#409020"/>
<text x="586.60" y="418.60" font-size="8.7" font-weight="bold" text-anchor="start" fill="#000" >SiO<tspan font-size="6" dy="2">2f</tspan><tspan dy="-2">/SiO</tspan><tspan font-size="6" dy="2">2</tspan><tspan dy="-2">-C</tspan></text>
<line x1="564.00" y1="428.40" x2="583.60" y2="428.40" stroke="#3030f0" stroke-width="0.9" />
<circle cx="574" cy="428.4" r="1.3" fill="#3030f0"/>
<text x="586.60" y="431.60" font-size="8.7" font-weight="bold" text-anchor="start" fill="#000" >ZnO/SiC<tspan font-size="6" dy="2">nw</tspan></text>
<line x1="564.00" y1="441.00" x2="583.60" y2="441.00" stroke="#ff30a0" stroke-width="0.9" />
<circle cx="574" cy="441.0" r="1.3" fill="#ff30a0"/>
<text x="586.60" y="444.20" font-size="8.7" font-weight="bold" text-anchor="start" fill="#000" >SiO<tspan font-size="6" dy="2">2f</tspan><tspan dy="-2">/SiO</tspan><tspan font-size="6" dy="2">2</tspan><tspan dy="-2">-C</tspan></text>
<rect x="564" y="449" width="19.6" height="9" fill="#fddada"/>
<text x="586.60" y="456.60" font-size="8.7" font-weight="bold" text-anchor="start" fill="#000" >This work</text>
</svg>
</body></html>
